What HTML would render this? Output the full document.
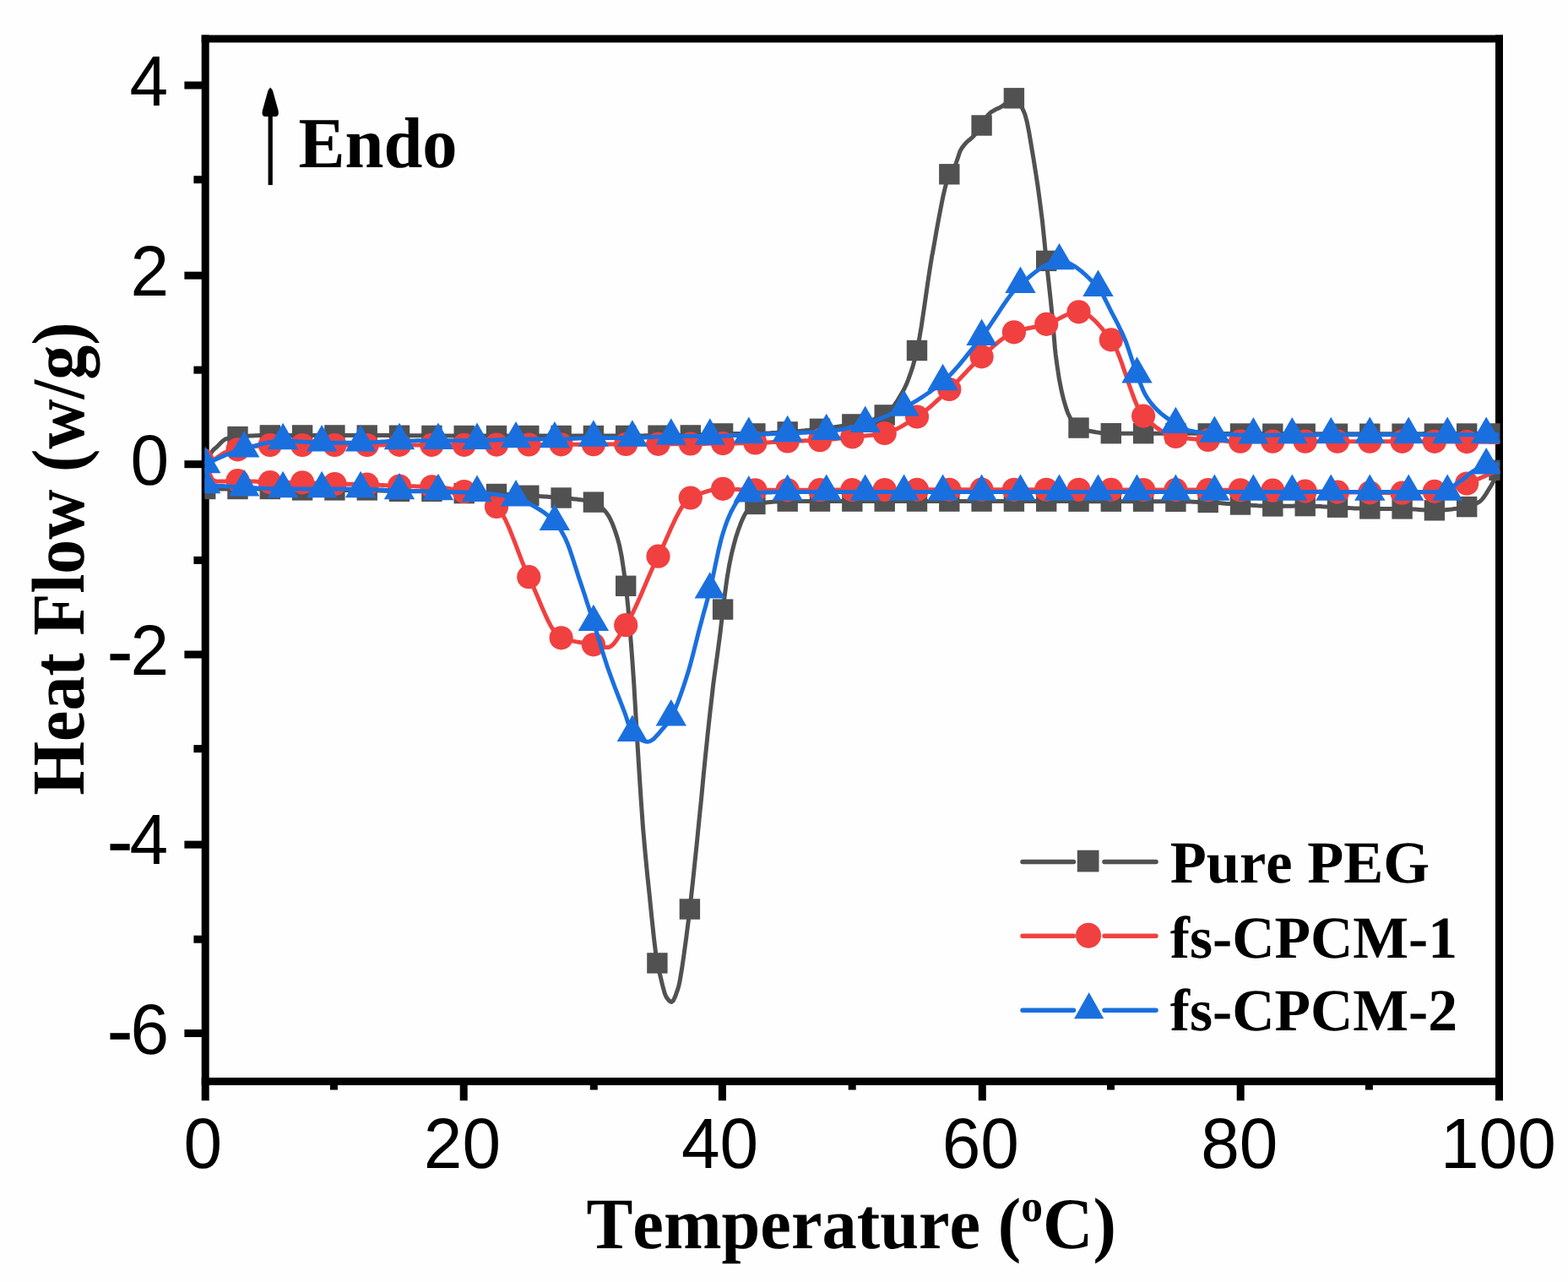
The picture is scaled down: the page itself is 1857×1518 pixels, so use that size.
<!DOCTYPE html>
<html lang="en">
<head>
<meta charset="utf-8">
<title>Heat Flow vs Temperature</title>
<style>
html,body{margin:0;padding:0;background:#fefefe;}
body{width:1857px;height:1518px;overflow:hidden;}
svg{display:block;}
text{font-kerning:none;font-variant-ligatures:none;text-rendering:geometricPrecision;}
.sans{font-family:"Liberation Sans",sans-serif;}
.serif{font-family:"Liberation Serif",serif;font-weight:bold;}
</style>
</head>
<body>
<svg width="1857" height="1518" viewBox="0 0 1857 1518">
<clipPath id="plot"><rect x="242.3" y="46" width="1534.3" height="1234.5"/></clipPath>
<rect width="1857" height="1518" fill="#fefefe"/>
<g fill="#000">
<rect x="238.7" y="41.5" width="9" height="1261.7"/>
<rect x="1771" y="41.5" width="9" height="1261.7"/>
<rect x="238.7" y="41.5" width="1541.3" height="8.9"/>
<rect x="238.7" y="1276" width="1541.3" height="9"/>
<rect x="218.4" y="1219.0" width="21" height="9"/>
<rect x="229.4" y="1107.7" width="10" height="9"/>
<rect x="218.4" y="995.6" width="21" height="9"/>
<rect x="229.4" y="882.1" width="10" height="9"/>
<rect x="218.4" y="770.5" width="21" height="9"/>
<rect x="229.4" y="658.9" width="10" height="9"/>
<rect x="218.4" y="545.2" width="21" height="9"/>
<rect x="229.4" y="433.6" width="10" height="9"/>
<rect x="218.4" y="321.7" width="21" height="9"/>
<rect x="229.4" y="208.2" width="10" height="9"/>
<rect x="218.4" y="96.5" width="21" height="9"/>
<rect x="390.9" y="1284" width="9" height="6.5"/>
<rect x="544.7" y="1284" width="9" height="19.2"/>
<rect x="698.8" y="1284" width="9" height="6.5"/>
<rect x="850.9" y="1284" width="9" height="19.2"/>
<rect x="1004.7" y="1284" width="9" height="6.5"/>
<rect x="1158.8" y="1284" width="9" height="19.2"/>
<rect x="1311.0" y="1284" width="9" height="6.5"/>
<rect x="1464.7" y="1284" width="9" height="19.2"/>
<rect x="1616.9" y="1284" width="9" height="6.5"/>
</g>
<g clip-path="url(#plot)">
<path d="M243.2 550.0 L245.8 544.1 L248.3 539.0 L250.9 534.9 L251.8 533.7 L253.4 532.0 L256.0 529.8 L258.5 527.5 L261.1 524.8 L263.4 522.5 L263.6 522.3 L266.2 520.4 L268.2 519.5 L268.7 519.3 L271.3 518.6 L273.8 518.1 L276.4 517.7 L278.9 517.3 L281.5 517.1 L284.1 516.9 L286.6 516.7 L289.2 516.6 L291.7 516.4 L294.3 516.2 L296.8 516.1 L299.4 516.0 L301.9 515.8 L304.5 515.7 L307.1 515.6 L309.6 515.6 L312.2 515.5 L314.7 515.5 L317.3 515.4 L319.8 515.4 L322.4 515.4 L324.9 515.4 L327.5 515.4 L330.0 515.4 L332.6 515.4 L335.1 515.4 L337.7 515.4 L340.2 515.4 L342.8 515.4 L345.4 515.4 L347.9 515.4 L350.5 515.4 L353.0 515.4 L355.6 515.4 L358.1 515.4 L360.7 515.4 L363.2 515.4 L365.8 515.4 L368.3 515.4 L370.9 515.4 L373.4 515.4 L376.0 515.4 L378.5 515.4 L381.1 515.4 L383.7 515.4 L386.2 515.4 L388.8 515.4 L391.3 515.4 L393.9 515.4 L396.4 515.4 L399.0 515.4 L401.5 515.4 L404.1 515.4 L406.7 515.4 L409.2 515.4 L411.8 515.4 L414.3 515.4 L416.9 515.5 L419.4 515.5 L422.0 515.5 L424.5 515.5 L427.1 515.5 L429.6 515.5 L432.2 515.5 L434.7 515.5 L437.3 515.5 L439.8 515.5 L442.4 515.5 L445.0 515.6 L447.5 515.6 L450.1 515.6 L452.6 515.6 L455.2 515.6 L457.7 515.6 L460.3 515.6 L462.8 515.7 L465.4 515.7 L467.9 515.7 L470.5 515.7 L473.0 515.7 L475.6 515.7 L478.1 515.7 L480.7 515.7 L483.3 515.8 L485.8 515.8 L488.4 515.8 L490.9 515.8 L493.5 515.8 L496.0 515.8 L498.6 515.8 L501.1 515.9 L503.7 515.9 L506.2 515.9 L508.8 515.9 L511.4 515.9 L513.9 515.9 L516.5 515.9 L519.0 515.9 L521.6 515.9 L524.1 515.9 L526.7 516.0 L529.2 516.0 L531.8 516.0 L534.3 516.0 L536.9 516.0 L539.4 516.0 L542.0 516.0 L544.6 516.0 L547.1 516.0 L549.7 516.0 L552.2 516.0 L554.8 516.0 L557.3 516.0 L559.9 516.0 L562.4 516.0 L565.0 516.0 L567.5 516.0 L570.1 516.0 L572.6 516.0 L575.2 516.0 L577.7 516.0 L580.3 516.0 L582.9 516.0 L585.4 516.0 L588.0 516.0 L590.5 516.0 L593.1 516.0 L595.6 516.0 L598.2 516.0 L600.7 516.0 L603.3 516.0 L605.8 516.0 L608.4 516.0 L611.0 516.0 L613.5 516.0 L616.1 516.0 L618.6 516.0 L621.2 516.0 L623.7 516.0 L626.3 516.0 L628.8 516.0 L631.4 516.0 L633.9 516.0 L636.5 516.0 L639.0 516.0 L641.6 516.0 L644.2 516.0 L646.7 516.0 L649.3 516.0 L651.8 516.0 L654.4 516.0 L656.9 516.0 L659.5 516.0 L662.0 516.0 L664.6 516.0 L667.1 516.0 L669.7 516.0 L672.2 516.0 L674.8 516.0 L677.3 516.0 L679.9 516.0 L682.5 516.0 L685.0 516.0 L687.6 516.0 L690.1 516.0 L692.7 516.0 L695.2 516.0 L697.8 516.0 L700.3 516.0 L702.9 516.0 L705.4 516.0 L708.0 516.0 L710.6 516.0 L713.1 516.0 L715.7 516.0 L718.2 516.0 L720.8 516.0 L723.3 516.0 L725.9 516.0 L728.4 516.0 L731.0 516.0 L733.5 516.0 L736.1 515.9 L738.6 515.9 L741.2 515.9 L743.8 515.9 L746.3 515.9 L748.9 515.9 L751.4 515.9 L754.0 515.9 L756.5 515.9 L759.1 515.9 L761.6 515.9 L764.2 515.8 L766.7 515.8 L769.3 515.8 L771.8 515.8 L774.4 515.8 L776.9 515.8 L779.5 515.7 L782.1 515.7 L784.6 515.7 L787.2 515.7 L789.7 515.7 L792.3 515.7 L794.8 515.6 L797.4 515.6 L799.9 515.6 L802.5 515.6 L805.0 515.6 L807.6 515.5 L810.2 515.5 L812.7 515.5 L815.3 515.5 L817.8 515.4 L820.4 515.4 L822.9 515.3 L825.5 515.2 L828.0 515.0 L830.6 514.8 L833.1 514.7 L835.7 514.5 L838.2 514.3 L840.8 514.1 L843.4 513.9 L845.9 513.7 L848.5 513.6 L851.0 513.5 L853.6 513.4 L856.1 513.4 L858.7 513.4 L861.2 513.4 L863.8 513.4 L866.3 513.4 L868.9 513.4 L871.4 513.4 L874.0 513.4 L876.5 513.4 L879.1 513.4 L881.7 513.4 L884.2 513.4 L886.8 513.4 L889.3 513.4 L891.9 513.4 L894.4 513.4 L897.0 513.4 L899.5 513.3 L902.1 513.3 L904.6 513.2 L907.2 513.1 L909.8 512.9 L912.3 512.8 L914.9 512.6 L917.4 512.5 L920.0 512.3 L922.5 512.1 L925.1 511.9 L927.6 511.7 L930.2 511.6 L932.7 511.4 L935.3 511.2 L937.8 511.0 L940.4 510.8 L943.0 510.6 L945.5 510.4 L948.1 510.2 L950.6 509.9 L953.2 509.7 L955.7 509.4 L958.3 509.2 L960.8 508.9 L963.4 508.6 L965.9 508.4 L968.5 508.1 L971.0 507.8 L973.6 507.5 L976.1 507.2 L978.7 506.9 L981.3 506.6 L983.8 506.3 L986.4 506.0 L988.9 505.6 L991.5 505.3 L994.0 504.9 L996.6 504.6 L999.1 504.2 L1001.7 503.8 L1004.2 503.3 L1006.8 502.9 L1009.3 502.4 L1011.9 501.9 L1014.5 501.4 L1017.0 500.9 L1019.6 500.4 L1022.1 499.9 L1024.7 499.3 L1027.2 498.7 L1029.8 498.1 L1032.3 497.3 L1034.9 496.6 L1037.4 495.7 L1040.0 494.8 L1042.6 493.7 L1045.1 492.6 L1047.7 491.4 L1050.2 489.8 L1052.8 487.6 L1055.3 484.8 L1057.9 481.6 L1060.4 478.0 L1063.0 474.1 L1065.5 469.9 L1068.1 465.5 L1069.7 462.7 L1070.6 461.0 L1073.2 455.6 L1075.7 449.3 L1078.3 442.2 L1080.9 434.4 L1083.4 425.4 L1086.0 415.0 L1088.5 402.3 L1091.1 387.2 L1093.6 370.3 L1096.2 352.7 L1098.7 335.1 L1101.3 318.1 L1103.8 302.8 L1104.4 300.0 L1106.4 288.9 L1108.9 274.5 L1111.5 260.3 L1114.1 246.6 L1116.6 233.9 L1119.2 222.6 L1121.7 213.3 L1124.3 206.3 L1126.8 201.8 L1129.4 198.4 L1131.9 194.2 L1134.5 186.6 L1137.0 179.0 L1137.3 178.5 L1139.6 174.6 L1142.2 171.3 L1144.2 169.0 L1144.7 168.5 L1147.3 166.2 L1149.8 164.2 L1152.4 161.9 L1152.6 161.6 L1154.9 159.0 L1157.5 155.8 L1160.0 152.2 L1162.6 148.5 L1165.1 144.1 L1167.7 139.5 L1169.5 136.9 L1170.2 136.1 L1172.8 133.6 L1174.8 132.1 L1175.3 131.8 L1177.9 130.3 L1180.5 129.0 L1183.0 127.9 L1185.6 126.6 L1186.3 126.1 L1188.1 124.9 L1190.7 122.8 L1193.2 120.5 L1195.8 118.4 L1198.3 116.9 L1200.9 116.3 L1203.4 117.3 L1206.0 120.0 L1208.5 124.1 L1211.1 129.1 L1213.1 133.6 L1213.7 134.8 L1216.2 144.1 L1218.8 157.1 L1221.3 172.0 L1223.9 187.4 L1226.4 203.1 L1229.0 220.0 L1231.5 238.5 L1234.1 258.9 L1234.6 263.1 L1236.6 282.6 L1239.2 308.9 L1241.8 332.4 L1244.3 355.5 L1245.6 368.5 L1246.9 382.2 L1249.4 412.3 L1250.2 419.8 L1252.0 433.0 L1254.5 449.6 L1257.1 462.5 L1257.1 462.7 L1259.6 472.9 L1262.2 481.9 L1264.7 489.2 L1266.8 493.5 L1267.3 494.4 L1269.8 498.7 L1272.4 502.3 L1274.9 505.0 L1277.5 506.6 L1280.1 507.4 L1282.6 508.2 L1285.2 509.0 L1287.7 509.7 L1290.3 510.3 L1292.8 510.8 L1295.4 511.3 L1297.9 511.8 L1300.5 512.1 L1303.0 512.5 L1305.6 512.7 L1308.1 512.9 L1310.7 513.1 L1313.3 513.2 L1315.8 513.2 L1318.4 513.2 L1320.9 513.2 L1323.5 513.2 L1326.0 513.2 L1328.6 513.2 L1331.1 513.2 L1333.7 513.2 L1336.2 513.2 L1338.8 513.2 L1341.4 513.2 L1343.9 513.2 L1346.5 513.2 L1349.0 513.2 L1351.6 513.2 L1354.1 513.2 L1356.7 513.2 L1359.2 513.2 L1361.8 513.2 L1364.3 513.2 L1366.9 513.2 L1369.4 513.2 L1372.0 513.2 L1374.5 513.2 L1377.1 513.2 L1379.7 513.2 L1382.2 513.2 L1384.8 513.2 L1387.3 513.2 L1389.9 513.2 L1392.4 513.2 L1395.0 513.2 L1397.5 513.3 L1400.1 513.3 L1402.6 513.3 L1405.2 513.3 L1407.7 513.3 L1410.3 513.3 L1412.9 513.3 L1415.4 513.3 L1418.0 513.3 L1420.5 513.3 L1423.1 513.3 L1425.6 513.4 L1428.2 513.4 L1430.7 513.4 L1433.3 513.4 L1435.8 513.4 L1438.4 513.4 L1441.0 513.4 L1443.5 513.4 L1446.1 513.4 L1448.6 513.5 L1451.2 513.5 L1453.7 513.5 L1456.3 513.5 L1458.8 513.5 L1461.4 513.5 L1463.9 513.5 L1466.5 513.5 L1469.0 513.5 L1471.6 513.6 L1474.1 513.6 L1476.7 513.6 L1479.3 513.6 L1481.8 513.6 L1484.4 513.6 L1486.9 513.6 L1489.5 513.6 L1492.0 513.6 L1494.6 513.6 L1497.1 513.7 L1499.7 513.7 L1502.2 513.7 L1504.8 513.7 L1507.3 513.7 L1509.9 513.7 L1512.5 513.7 L1515.0 513.7 L1517.6 513.7 L1520.1 513.7 L1522.7 513.7 L1525.2 513.7 L1527.8 513.7 L1530.3 513.7 L1532.9 513.7 L1535.4 513.7 L1538.0 513.7 L1540.6 513.7 L1543.1 513.7 L1545.7 513.7 L1548.2 513.7 L1550.8 513.7 L1553.3 513.7 L1555.9 513.7 L1558.4 513.7 L1561.0 513.7 L1563.5 513.7 L1566.1 513.7 L1568.6 513.7 L1571.2 513.7 L1573.7 513.7 L1576.3 513.7 L1578.9 513.7 L1581.4 513.7 L1584.0 513.7 L1586.5 513.7 L1589.1 513.7 L1591.6 513.7 L1594.2 513.7 L1596.7 513.7 L1599.3 513.7 L1601.8 513.7 L1604.4 513.7 L1606.9 513.7 L1609.5 513.7 L1612.0 513.7 L1614.6 513.7 L1617.2 513.7 L1619.7 513.7 L1622.3 513.7 L1624.8 513.7 L1627.4 513.7 L1629.9 513.7 L1632.5 513.7 L1635.0 513.7 L1637.6 513.7 L1640.2 513.7 L1642.7 513.7 L1645.3 513.7 L1647.8 513.7 L1650.4 513.7 L1652.9 513.7 L1655.5 513.7 L1658.0 513.7 L1660.6 513.7 L1663.1 513.7 L1665.7 513.7 L1668.2 513.7 L1670.8 513.7 L1673.3 513.7 L1675.9 513.7 L1678.5 513.7 L1681.0 513.7 L1683.6 513.7 L1686.1 513.6 L1688.7 513.6 L1691.2 513.6 L1693.8 513.6 L1696.3 513.6 L1698.9 513.6 L1701.4 513.6 L1704.0 513.6 L1706.5 513.6 L1709.1 513.6 L1711.6 513.6 L1714.2 513.6 L1716.8 513.6 L1719.3 513.6 L1721.9 513.6 L1724.4 513.6 L1727.0 513.6 L1729.5 513.6 L1732.1 513.5 L1734.6 513.5 L1737.2 513.5 L1739.8 513.5 L1742.3 513.5 L1744.9 513.5 L1747.4 513.5 L1750.0 513.5 L1752.5 513.5 L1755.1 513.5 L1757.6 513.5 L1760.2 513.5 L1762.7 513.5 L1765.3 513.4 L1767.8 513.4 L1770.4 513.4 L1772.9 513.4 L1775.5 513.4" fill="none" stroke="#515151" stroke-width="5.0" stroke-linejoin="round"/>
<path d="M243.2 579.0 L245.8 579.0 L248.3 579.0 L250.9 579.0 L253.4 579.0 L256.0 579.0 L258.5 579.0 L261.1 579.0 L263.6 579.0 L266.2 579.0 L268.7 579.0 L271.3 579.0 L273.8 579.0 L276.4 579.0 L278.9 579.0 L281.5 579.0 L284.1 579.0 L286.6 579.0 L289.2 579.0 L291.7 579.0 L294.3 579.0 L296.8 579.0 L299.4 579.0 L301.9 579.0 L304.5 579.0 L307.1 579.0 L309.6 579.0 L312.2 579.0 L314.7 579.0 L317.3 579.0 L319.8 579.0 L322.4 579.0 L324.9 579.0 L327.5 579.1 L330.0 579.2 L332.6 579.3 L335.1 579.5 L337.7 579.6 L340.2 579.8 L342.8 579.9 L345.4 580.0 L347.9 580.2 L350.5 580.3 L353.0 580.3 L355.6 580.4 L358.1 580.4 L360.7 580.4 L363.2 580.4 L365.8 580.4 L368.3 580.4 L370.9 580.4 L373.4 580.4 L376.0 580.4 L378.5 580.4 L381.1 580.4 L383.7 580.4 L386.2 580.4 L388.8 580.4 L391.3 580.4 L393.9 580.4 L396.4 580.4 L399.0 580.4 L401.5 580.4 L404.1 580.4 L406.7 580.4 L409.2 580.4 L411.8 580.4 L414.3 580.4 L416.9 580.4 L419.4 580.4 L422.0 580.4 L424.5 580.4 L427.1 580.4 L429.6 580.4 L432.2 580.4 L434.7 580.4 L437.3 580.4 L439.8 580.5 L442.4 580.6 L445.0 580.7 L447.5 580.8 L450.1 580.9 L452.6 581.0 L455.2 581.2 L457.7 581.3 L460.3 581.4 L462.8 581.5 L465.4 581.6 L467.9 581.7 L470.5 581.7 L473.0 581.8 L475.6 581.8 L478.1 581.8 L480.7 581.8 L483.3 581.8 L485.8 581.8 L488.4 581.8 L490.9 581.8 L493.5 581.8 L496.0 581.8 L498.6 581.8 L501.1 581.8 L503.7 581.8 L506.2 581.8 L508.8 581.8 L511.4 581.8 L513.9 581.8 L516.5 581.9 L519.0 582.0 L521.6 582.1 L524.1 582.3 L526.7 582.5 L529.2 582.7 L531.8 582.9 L534.3 583.1 L536.9 583.3 L539.4 583.5 L542.0 583.7 L544.6 583.9 L547.1 584.0 L549.7 584.1 L552.2 584.2 L554.8 584.3 L557.3 584.3 L559.9 584.4 L562.4 584.5 L565.0 584.5 L567.5 584.6 L570.1 584.6 L572.6 584.7 L575.2 584.7 L577.7 584.8 L580.3 584.8 L582.9 584.9 L585.4 584.9 L588.0 585.0 L590.5 585.1 L593.1 585.2 L595.6 585.3 L598.2 585.4 L600.7 585.5 L603.3 585.6 L605.8 585.7 L608.4 585.9 L611.0 586.0 L613.5 586.1 L616.1 586.3 L618.6 586.4 L621.2 586.5 L623.7 586.7 L626.3 586.8 L628.8 587.0 L631.4 587.1 L633.9 587.3 L636.5 587.4 L639.0 587.6 L641.6 587.7 L644.2 587.9 L646.7 588.1 L649.3 588.3 L651.8 588.5 L654.4 588.6 L656.9 588.9 L659.5 589.1 L662.0 589.3 L664.6 589.5 L667.1 589.7 L669.7 590.0 L672.2 590.2 L674.8 590.4 L677.3 590.6 L679.9 590.9 L682.5 591.1 L685.0 591.4 L687.6 591.7 L690.1 592.1 L692.7 592.5 L695.2 592.9 L697.8 593.4 L700.3 593.9 L702.9 594.6 L705.4 595.5 L708.0 597.0 L710.6 599.0 L713.1 601.4 L715.7 604.2 L718.2 607.2 L720.8 611.0 L723.3 615.7 L725.9 621.6 L728.4 628.5 L731.0 636.4 L732.9 643.2 L733.5 645.5 L736.1 658.2 L738.6 674.6 L741.2 693.8 L743.8 718.5 L745.6 740.2 L746.3 748.1 L748.9 782.2 L750.9 811.5 L751.4 820.4 L754.0 864.0 L755.0 881.1 L756.5 905.9 L759.1 946.3 L761.4 978.8 L761.6 981.3 L764.2 1010.5 L766.7 1036.5 L769.3 1060.8 L769.4 1061.9 L771.8 1085.8 L774.4 1110.2 L776.9 1131.0 L778.4 1140.4 L779.5 1145.7 L782.1 1156.0 L782.1 1156.2 L784.6 1166.6 L787.2 1176.1 L788.7 1179.7 L789.7 1181.4 L792.3 1184.8 L794.8 1186.4 L795.1 1186.5 L797.4 1184.7 L799.9 1179.4 L802.5 1171.9 L803.6 1168.5 L805.0 1162.3 L807.6 1147.0 L810.2 1129.0 L810.6 1125.8 L812.7 1110.6 L815.3 1090.2 L816.9 1076.5 L817.8 1068.5 L820.4 1045.2 L822.4 1025.9 L822.9 1021.1 L825.5 996.3 L828.0 971.0 L829.6 955.2 L830.6 945.4 L833.1 918.9 L835.7 892.8 L836.7 883.4 L838.2 868.4 L840.8 844.7 L843.4 822.2 L844.6 811.5 L845.9 801.5 L848.5 782.9 L851.0 764.5 L853.1 748.7 L853.6 744.4 L856.1 721.6 L858.7 701.7 L861.2 683.6 L863.8 668.5 L866.3 656.4 L868.9 645.8 L871.4 636.6 L874.0 628.7 L874.0 628.6 L876.5 621.8 L879.1 615.4 L881.7 610.0 L884.2 605.9 L884.6 605.3 L886.8 602.8 L889.3 600.0 L891.9 598.0 L894.4 596.9 L897.0 596.5 L899.5 596.0 L902.1 595.6 L904.6 595.3 L907.2 595.0 L909.8 594.7 L912.3 594.4 L914.9 594.2 L917.4 594.0 L920.0 593.9 L922.5 593.8 L925.1 593.7 L927.6 593.6 L930.2 593.6 L932.7 593.6 L935.3 593.6 L937.8 593.6 L940.4 593.6 L943.0 593.6 L945.5 593.6 L948.1 593.6 L950.6 593.6 L953.2 593.6 L955.7 593.6 L958.3 593.6 L960.8 593.6 L963.4 593.6 L965.9 593.6 L968.5 593.6 L971.0 593.6 L973.6 593.6 L976.1 593.6 L978.7 593.6 L981.3 593.6 L983.8 593.6 L986.4 593.6 L988.9 593.6 L991.5 593.6 L994.0 593.6 L996.6 593.6 L999.1 593.6 L1001.7 593.6 L1004.2 593.6 L1006.8 593.6 L1009.3 593.6 L1011.9 593.6 L1014.5 593.6 L1017.0 593.6 L1019.6 593.6 L1022.1 593.6 L1024.7 593.6 L1027.2 593.6 L1029.8 593.6 L1032.3 593.6 L1034.9 593.6 L1037.4 593.6 L1040.0 593.6 L1042.6 593.6 L1045.1 593.6 L1047.7 593.6 L1050.2 593.6 L1052.8 593.6 L1055.3 593.6 L1057.9 593.6 L1060.4 593.6 L1063.0 593.6 L1065.5 593.6 L1068.1 593.6 L1070.6 593.6 L1073.2 593.6 L1075.7 593.6 L1078.3 593.6 L1080.9 593.6 L1083.4 593.6 L1086.0 593.6 L1088.5 593.6 L1091.1 593.6 L1093.6 593.6 L1096.2 593.6 L1098.7 593.6 L1101.3 593.6 L1103.8 593.6 L1106.4 593.6 L1108.9 593.6 L1111.5 593.6 L1114.1 593.6 L1116.6 593.6 L1119.2 593.6 L1121.7 593.6 L1124.3 593.6 L1126.8 593.6 L1129.4 593.6 L1131.9 593.6 L1134.5 593.6 L1137.0 593.6 L1139.6 593.6 L1142.2 593.6 L1144.7 593.6 L1147.3 593.6 L1149.8 593.6 L1152.4 593.6 L1154.9 593.6 L1157.5 593.6 L1160.0 593.6 L1162.6 593.6 L1165.1 593.6 L1167.7 593.6 L1170.2 593.6 L1172.8 593.6 L1175.3 593.6 L1177.9 593.6 L1180.5 593.6 L1183.0 593.6 L1185.6 593.6 L1188.1 593.6 L1190.7 593.6 L1193.2 593.6 L1195.8 593.6 L1198.3 593.6 L1200.9 593.6 L1203.4 593.6 L1206.0 593.6 L1208.5 593.6 L1211.1 593.6 L1213.7 593.6 L1216.2 593.6 L1218.8 593.6 L1221.3 593.6 L1223.9 593.6 L1226.4 593.6 L1229.0 593.6 L1231.5 593.6 L1234.1 593.6 L1236.6 593.6 L1239.2 593.6 L1241.8 593.6 L1244.3 593.6 L1246.9 593.6 L1249.4 593.6 L1252.0 593.6 L1254.5 593.6 L1257.1 593.6 L1259.6 593.6 L1262.2 593.6 L1264.7 593.6 L1267.3 593.6 L1269.8 593.7 L1272.4 593.7 L1274.9 593.7 L1277.5 593.7 L1280.1 593.7 L1282.6 593.7 L1285.2 593.7 L1287.7 593.7 L1290.3 593.7 L1292.8 593.7 L1295.4 593.7 L1297.9 593.7 L1300.5 593.7 L1303.0 593.7 L1305.6 593.7 L1308.1 593.7 L1310.7 593.7 L1313.3 593.7 L1315.8 593.7 L1318.4 593.7 L1320.9 593.7 L1323.5 593.7 L1326.0 593.7 L1328.6 593.7 L1331.1 593.7 L1333.7 593.7 L1336.2 593.7 L1338.8 593.7 L1341.4 593.7 L1343.9 593.7 L1346.5 593.7 L1349.0 593.7 L1351.6 593.7 L1354.1 593.7 L1356.7 593.7 L1359.2 593.7 L1361.8 593.7 L1364.3 593.7 L1366.9 593.7 L1369.4 593.7 L1372.0 593.8 L1374.5 593.8 L1377.1 593.8 L1379.7 593.8 L1382.2 593.8 L1384.8 593.8 L1387.3 593.8 L1389.9 593.8 L1392.4 593.8 L1395.0 593.8 L1397.5 593.8 L1400.1 593.9 L1402.6 593.9 L1405.2 594.0 L1407.7 594.0 L1410.3 594.1 L1412.9 594.2 L1415.4 594.3 L1418.0 594.4 L1420.5 594.5 L1423.1 594.6 L1425.6 594.7 L1428.2 594.8 L1430.7 594.9 L1433.3 595.0 L1435.8 595.1 L1438.4 595.3 L1441.0 595.5 L1443.5 595.6 L1446.1 595.8 L1448.6 596.0 L1451.2 596.2 L1453.7 596.4 L1456.3 596.6 L1458.8 596.8 L1461.4 597.0 L1463.9 597.2 L1466.5 597.3 L1469.0 597.5 L1471.6 597.6 L1474.1 597.8 L1476.7 598.0 L1479.3 598.1 L1481.8 598.3 L1484.4 598.5 L1486.9 598.6 L1489.5 598.8 L1492.0 598.9 L1494.6 599.1 L1497.1 599.2 L1499.7 599.3 L1502.2 599.3 L1504.8 599.4 L1507.3 599.4 L1509.9 599.4 L1512.5 599.4 L1515.0 599.4 L1517.6 599.3 L1520.1 599.3 L1522.7 599.3 L1525.2 599.2 L1527.8 599.2 L1530.3 599.2 L1532.9 599.1 L1535.4 599.1 L1538.0 599.1 L1540.6 599.1 L1543.1 599.1 L1545.7 599.1 L1548.2 599.1 L1550.8 599.1 L1553.3 599.2 L1555.9 599.3 L1558.4 599.4 L1561.0 599.5 L1563.5 599.6 L1566.1 599.8 L1568.6 599.9 L1571.2 600.1 L1573.7 600.2 L1576.3 600.3 L1578.9 600.5 L1581.4 600.6 L1584.0 600.7 L1586.5 600.9 L1589.1 601.0 L1591.6 601.1 L1594.2 601.3 L1596.7 601.4 L1599.3 601.6 L1601.8 601.7 L1604.4 601.9 L1606.9 602.0 L1609.5 602.1 L1612.0 602.2 L1614.6 602.3 L1617.2 602.4 L1619.7 602.4 L1622.3 602.4 L1624.8 602.4 L1627.4 602.4 L1629.9 602.4 L1632.5 602.4 L1635.0 602.4 L1637.6 602.4 L1640.2 602.4 L1642.7 602.4 L1645.3 602.4 L1647.8 602.4 L1650.4 602.4 L1652.9 602.4 L1655.5 602.4 L1658.0 602.4 L1660.6 602.4 L1663.1 602.4 L1665.7 602.5 L1668.2 602.6 L1670.8 602.8 L1673.3 602.9 L1675.9 603.1 L1678.5 603.3 L1681.0 603.5 L1683.6 603.7 L1686.1 603.8 L1688.7 604.0 L1691.2 604.1 L1693.8 604.2 L1696.3 604.3 L1698.9 604.3 L1701.4 604.3 L1704.0 604.2 L1706.5 604.1 L1709.1 604.0 L1711.6 603.8 L1714.2 603.5 L1716.8 603.3 L1719.3 603.0 L1721.9 602.6 L1724.4 602.3 L1727.0 601.9 L1729.5 601.4 L1732.1 601.0 L1734.6 600.5 L1737.2 600.1 L1739.8 599.5 L1742.3 598.7 L1744.9 597.8 L1747.4 596.7 L1750.0 595.3 L1752.5 593.8 L1755.1 591.5 L1757.6 588.3 L1760.2 584.4 L1762.7 580.3 L1764.8 576.9 L1765.3 576.1 L1767.8 571.8 L1770.4 567.1 L1772.9 562.1 L1775.5 556.8" fill="none" stroke="#515151" stroke-width="5.0" stroke-linejoin="round"/>
<rect x="269.3" y="504.9" width="24.4" height="24.4" fill="#515151"/>
<rect x="307.6" y="503.2" width="24.4" height="24.4" fill="#515151"/>
<rect x="345.9" y="503.2" width="24.4" height="24.4" fill="#515151"/>
<rect x="384.2" y="503.2" width="24.4" height="24.4" fill="#515151"/>
<rect x="422.5" y="503.3" width="24.4" height="24.4" fill="#515151"/>
<rect x="460.8" y="503.5" width="24.4" height="24.4" fill="#515151"/>
<rect x="499.2" y="503.7" width="24.4" height="24.4" fill="#515151"/>
<rect x="537.5" y="503.8" width="24.4" height="24.4" fill="#515151"/>
<rect x="575.8" y="503.8" width="24.4" height="24.4" fill="#515151"/>
<rect x="614.1" y="503.8" width="24.4" height="24.4" fill="#515151"/>
<rect x="652.4" y="503.8" width="24.4" height="24.4" fill="#515151"/>
<rect x="690.7" y="503.8" width="24.4" height="24.4" fill="#515151"/>
<rect x="729.0" y="503.7" width="24.4" height="24.4" fill="#515151"/>
<rect x="767.3" y="503.5" width="24.4" height="24.4" fill="#515151"/>
<rect x="805.6" y="503.2" width="24.4" height="24.4" fill="#515151"/>
<rect x="843.9" y="501.2" width="24.4" height="24.4" fill="#515151"/>
<rect x="882.2" y="501.2" width="24.4" height="24.4" fill="#515151"/>
<rect x="920.5" y="499.2" width="24.4" height="24.4" fill="#515151"/>
<rect x="958.8" y="495.6" width="24.4" height="24.4" fill="#515151"/>
<rect x="997.1" y="490.2" width="24.4" height="24.4" fill="#515151"/>
<rect x="1035.5" y="479.2" width="24.4" height="24.4" fill="#515151"/>
<rect x="1073.8" y="402.8" width="24.4" height="24.4" fill="#515151"/>
<rect x="1112.1" y="194.1" width="24.4" height="24.4" fill="#515151"/>
<rect x="1150.4" y="136.3" width="24.4" height="24.4" fill="#515151"/>
<rect x="1188.7" y="104.1" width="24.4" height="24.4" fill="#515151"/>
<rect x="1227.0" y="296.7" width="24.4" height="24.4" fill="#515151"/>
<rect x="1265.3" y="494.4" width="24.4" height="24.4" fill="#515151"/>
<rect x="1303.6" y="501.0" width="24.4" height="24.4" fill="#515151"/>
<rect x="1341.9" y="501.0" width="24.4" height="24.4" fill="#515151"/>
<rect x="1380.2" y="501.0" width="24.4" height="24.4" fill="#515151"/>
<rect x="1418.5" y="501.2" width="24.4" height="24.4" fill="#515151"/>
<rect x="1456.8" y="501.3" width="24.4" height="24.4" fill="#515151"/>
<rect x="1495.1" y="501.5" width="24.4" height="24.4" fill="#515151"/>
<rect x="1533.5" y="501.5" width="24.4" height="24.4" fill="#515151"/>
<rect x="1571.8" y="501.5" width="24.4" height="24.4" fill="#515151"/>
<rect x="1610.1" y="501.5" width="24.4" height="24.4" fill="#515151"/>
<rect x="1648.4" y="501.5" width="24.4" height="24.4" fill="#515151"/>
<rect x="1686.7" y="501.4" width="24.4" height="24.4" fill="#515151"/>
<rect x="1725.0" y="501.3" width="24.4" height="24.4" fill="#515151"/>
<rect x="1763.3" y="501.2" width="24.4" height="24.4" fill="#515151"/>
<rect x="231.0" y="566.8" width="24.4" height="24.4" fill="#515151"/>
<rect x="269.3" y="566.8" width="24.4" height="24.4" fill="#515151"/>
<rect x="307.6" y="566.8" width="24.4" height="24.4" fill="#515151"/>
<rect x="345.9" y="568.2" width="24.4" height="24.4" fill="#515151"/>
<rect x="384.2" y="568.2" width="24.4" height="24.4" fill="#515151"/>
<rect x="422.5" y="568.2" width="24.4" height="24.4" fill="#515151"/>
<rect x="460.8" y="569.6" width="24.4" height="24.4" fill="#515151"/>
<rect x="499.2" y="569.6" width="24.4" height="24.4" fill="#515151"/>
<rect x="537.5" y="571.9" width="24.4" height="24.4" fill="#515151"/>
<rect x="575.8" y="572.8" width="24.4" height="24.4" fill="#515151"/>
<rect x="614.1" y="574.6" width="24.4" height="24.4" fill="#515151"/>
<rect x="652.4" y="577.3" width="24.4" height="24.4" fill="#515151"/>
<rect x="690.7" y="582.4" width="24.4" height="24.4" fill="#515151"/>
<rect x="729.0" y="681.6" width="24.4" height="24.4" fill="#515151"/>
<rect x="766.2" y="1128.2" width="24.4" height="24.4" fill="#515151"/>
<rect x="804.7" y="1064.3" width="24.4" height="24.4" fill="#515151"/>
<rect x="843.9" y="709.4" width="24.4" height="24.4" fill="#515151"/>
<rect x="882.2" y="584.7" width="24.4" height="24.4" fill="#515151"/>
<rect x="920.5" y="581.4" width="24.4" height="24.4" fill="#515151"/>
<rect x="958.8" y="581.4" width="24.4" height="24.4" fill="#515151"/>
<rect x="997.1" y="581.4" width="24.4" height="24.4" fill="#515151"/>
<rect x="1035.5" y="581.4" width="24.4" height="24.4" fill="#515151"/>
<rect x="1073.8" y="581.4" width="24.4" height="24.4" fill="#515151"/>
<rect x="1112.1" y="581.4" width="24.4" height="24.4" fill="#515151"/>
<rect x="1150.4" y="581.4" width="24.4" height="24.4" fill="#515151"/>
<rect x="1188.7" y="581.4" width="24.4" height="24.4" fill="#515151"/>
<rect x="1227.0" y="581.4" width="24.4" height="24.4" fill="#515151"/>
<rect x="1265.3" y="581.5" width="24.4" height="24.4" fill="#515151"/>
<rect x="1303.6" y="581.5" width="24.4" height="24.4" fill="#515151"/>
<rect x="1341.9" y="581.5" width="24.4" height="24.4" fill="#515151"/>
<rect x="1380.2" y="581.6" width="24.4" height="24.4" fill="#515151"/>
<rect x="1418.5" y="582.7" width="24.4" height="24.4" fill="#515151"/>
<rect x="1456.8" y="585.3" width="24.4" height="24.4" fill="#515151"/>
<rect x="1495.1" y="587.2" width="24.4" height="24.4" fill="#515151"/>
<rect x="1533.5" y="586.9" width="24.4" height="24.4" fill="#515151"/>
<rect x="1571.8" y="588.5" width="24.4" height="24.4" fill="#515151"/>
<rect x="1610.1" y="590.2" width="24.4" height="24.4" fill="#515151"/>
<rect x="1648.4" y="590.2" width="24.4" height="24.4" fill="#515151"/>
<rect x="1686.7" y="592.1" width="24.4" height="24.4" fill="#515151"/>
<rect x="1725.0" y="587.9" width="24.4" height="24.4" fill="#515151"/>
<rect x="1763.3" y="544.6" width="24.4" height="24.4" fill="#515151"/>
<path d="M243.2 533.2 L245.8 534.5 L247.6 536.1 L248.3 536.9 L250.9 542.1 L252.9 544.4 L253.4 544.3 L256.0 542.8 L258.5 540.8 L261.1 539.0 L263.6 537.2 L265.7 536.1 L266.2 535.9 L268.7 535.1 L271.3 534.4 L273.8 533.7 L276.4 533.2 L278.9 532.7 L281.5 532.3 L284.1 531.8 L286.6 531.3 L289.2 530.8 L291.7 530.3 L294.3 529.9 L296.8 529.4 L299.4 529.0 L301.9 528.6 L304.5 528.2 L307.1 527.8 L309.6 527.6 L312.2 527.3 L314.7 527.1 L317.3 527.0 L319.8 527.0 L322.4 527.0 L324.9 527.0 L327.5 527.0 L330.0 527.0 L332.6 527.0 L335.1 527.0 L337.7 527.0 L340.2 527.0 L342.8 527.0 L345.4 527.0 L347.9 527.0 L350.5 527.0 L353.0 527.0 L355.6 527.0 L358.1 527.0 L360.7 527.0 L363.2 527.0 L365.8 527.0 L368.3 527.0 L370.9 527.0 L373.4 527.0 L376.0 527.0 L378.5 527.0 L381.1 527.0 L383.7 527.0 L386.2 527.0 L388.8 527.0 L391.3 527.0 L393.9 527.0 L396.4 527.0 L399.0 527.0 L401.5 527.0 L404.1 527.0 L406.7 527.0 L409.2 527.0 L411.8 527.0 L414.3 527.0 L416.9 527.0 L419.4 527.0 L422.0 527.0 L424.5 527.0 L427.1 527.0 L429.6 527.0 L432.2 527.0 L434.7 527.0 L437.3 527.0 L439.8 527.0 L442.4 527.0 L445.0 527.0 L447.5 527.0 L450.1 527.0 L452.6 527.0 L455.2 527.0 L457.7 526.9 L460.3 526.9 L462.8 526.9 L465.4 526.9 L467.9 526.9 L470.5 526.9 L473.0 526.9 L475.6 526.9 L478.1 526.9 L480.7 526.9 L483.3 526.9 L485.8 526.9 L488.4 526.9 L490.9 526.9 L493.5 526.9 L496.0 526.9 L498.6 526.9 L501.1 526.9 L503.7 526.9 L506.2 526.9 L508.8 526.9 L511.4 526.9 L513.9 526.8 L516.5 526.8 L519.0 526.8 L521.6 526.8 L524.1 526.8 L526.7 526.8 L529.2 526.8 L531.8 526.8 L534.3 526.8 L536.9 526.8 L539.4 526.8 L542.0 526.8 L544.6 526.8 L547.1 526.8 L549.7 526.8 L552.2 526.7 L554.8 526.7 L557.3 526.7 L559.9 526.7 L562.4 526.7 L565.0 526.7 L567.5 526.7 L570.1 526.7 L572.6 526.7 L575.2 526.7 L577.7 526.7 L580.3 526.7 L582.9 526.7 L585.4 526.6 L588.0 526.6 L590.5 526.6 L593.1 526.6 L595.6 526.6 L598.2 526.6 L600.7 526.6 L603.3 526.6 L605.8 526.6 L608.4 526.6 L611.0 526.6 L613.5 526.6 L616.1 526.5 L618.6 526.5 L621.2 526.5 L623.7 526.5 L626.3 526.5 L628.8 526.5 L631.4 526.5 L633.9 526.5 L636.5 526.5 L639.0 526.5 L641.6 526.4 L644.2 526.4 L646.7 526.4 L649.3 526.4 L651.8 526.4 L654.4 526.4 L656.9 526.4 L659.5 526.4 L662.0 526.4 L664.6 526.4 L667.1 526.3 L669.7 526.3 L672.2 526.3 L674.8 526.3 L677.3 526.3 L679.9 526.3 L682.5 526.3 L685.0 526.3 L687.6 526.3 L690.1 526.3 L692.7 526.2 L695.2 526.2 L697.8 526.2 L700.3 526.2 L702.9 526.2 L705.4 526.2 L708.0 526.2 L710.6 526.2 L713.1 526.2 L715.7 526.1 L718.2 526.1 L720.8 526.1 L723.3 526.1 L725.9 526.1 L728.4 526.1 L731.0 526.1 L733.5 526.1 L736.1 526.1 L738.6 526.0 L741.2 526.0 L743.8 526.0 L746.3 526.0 L748.9 526.0 L751.4 526.0 L754.0 526.0 L756.5 526.0 L759.1 525.9 L761.6 525.9 L764.2 525.9 L766.7 525.9 L769.3 525.9 L771.8 525.9 L774.4 525.9 L776.9 525.8 L779.5 525.8 L782.1 525.8 L784.6 525.8 L787.2 525.8 L789.7 525.8 L792.3 525.7 L794.8 525.7 L797.4 525.7 L799.9 525.7 L802.5 525.7 L805.0 525.6 L807.6 525.6 L810.2 525.6 L812.7 525.6 L815.3 525.6 L817.8 525.5 L820.4 525.5 L822.9 525.5 L825.5 525.5 L828.0 525.4 L830.6 525.4 L833.1 525.4 L835.7 525.4 L838.2 525.3 L840.8 525.3 L843.4 525.3 L845.9 525.2 L848.5 525.2 L851.0 525.2 L853.6 525.1 L856.1 525.1 L858.7 525.1 L861.2 525.0 L863.8 525.0 L866.3 525.0 L868.9 524.9 L871.4 524.9 L874.0 524.9 L876.5 524.8 L879.1 524.8 L881.7 524.7 L884.2 524.7 L886.8 524.7 L889.3 524.6 L891.9 524.6 L894.4 524.5 L897.0 524.5 L899.5 524.4 L902.1 524.3 L904.6 524.2 L907.2 524.0 L909.8 523.9 L912.3 523.7 L914.9 523.5 L917.4 523.4 L920.0 523.2 L922.5 523.0 L925.1 522.9 L927.6 522.7 L930.2 522.6 L932.7 522.5 L935.3 522.4 L937.8 522.3 L940.4 522.2 L943.0 522.1 L945.5 522.1 L948.1 522.0 L950.6 521.9 L953.2 521.8 L955.7 521.8 L958.3 521.7 L960.8 521.6 L963.4 521.5 L965.9 521.4 L968.5 521.3 L971.0 521.2 L973.6 521.0 L976.1 520.8 L978.7 520.6 L981.3 520.4 L983.8 520.2 L986.4 520.0 L988.9 519.7 L991.5 519.4 L994.0 519.1 L996.6 518.9 L999.1 518.6 L1001.7 518.3 L1004.2 518.0 L1006.8 517.7 L1009.3 517.4 L1011.9 517.2 L1014.5 516.9 L1017.0 516.7 L1019.6 516.5 L1022.1 516.2 L1024.7 516.0 L1027.2 515.7 L1029.8 515.5 L1032.3 515.2 L1034.9 514.9 L1037.4 514.6 L1040.0 514.2 L1042.6 513.8 L1045.1 513.4 L1047.7 513.0 L1050.2 512.4 L1052.8 511.7 L1055.3 510.8 L1057.9 509.8 L1060.4 508.6 L1063.0 507.4 L1065.5 506.1 L1068.1 504.7 L1070.6 503.2 L1073.2 501.6 L1075.7 500.1 L1078.3 498.4 L1080.9 496.8 L1083.4 495.2 L1086.0 493.5 L1088.5 491.9 L1091.1 490.1 L1093.6 488.2 L1096.2 486.2 L1098.7 484.1 L1101.3 482.0 L1103.8 479.8 L1106.4 477.5 L1108.9 475.2 L1111.5 472.9 L1114.1 470.5 L1116.6 468.1 L1119.2 465.7 L1121.7 463.4 L1124.3 461.0 L1126.8 458.6 L1129.4 456.1 L1131.9 453.5 L1134.5 450.9 L1137.0 448.2 L1139.6 445.5 L1142.2 442.8 L1144.7 440.1 L1147.3 437.3 L1149.8 434.7 L1152.4 432.1 L1154.9 429.5 L1157.5 427.0 L1160.0 424.6 L1162.6 422.4 L1165.1 420.1 L1167.7 417.9 L1170.2 415.6 L1172.8 413.3 L1175.3 411.0 L1177.9 408.7 L1180.5 406.5 L1183.0 404.4 L1185.6 402.4 L1188.1 400.5 L1190.7 398.7 L1193.2 397.1 L1195.8 395.6 L1198.3 394.4 L1200.9 393.3 L1203.4 392.4 L1206.0 391.6 L1208.5 390.9 L1211.1 390.2 L1213.7 389.6 L1216.2 389.0 L1218.8 388.5 L1221.3 388.0 L1223.9 387.5 L1226.4 387.0 L1229.0 386.4 L1231.5 385.9 L1234.1 385.3 L1236.6 384.6 L1239.2 383.9 L1241.8 383.0 L1244.3 382.0 L1246.9 380.9 L1249.4 379.7 L1252.0 378.4 L1254.5 377.1 L1257.1 375.8 L1259.6 374.5 L1262.2 373.3 L1264.7 372.2 L1267.3 371.2 L1269.8 370.4 L1272.4 369.8 L1274.9 369.4 L1277.5 369.3 L1280.1 369.5 L1282.6 370.1 L1285.2 371.2 L1287.7 372.6 L1290.3 374.3 L1292.8 376.3 L1295.4 378.6 L1297.9 381.1 L1300.5 383.8 L1303.0 386.6 L1305.6 389.6 L1308.1 392.7 L1310.7 395.9 L1313.3 399.1 L1315.8 402.4 L1318.4 406.2 L1320.9 411.0 L1323.5 416.8 L1326.0 423.2 L1328.6 430.1 L1331.1 437.5 L1333.7 445.0 L1336.2 452.5 L1338.8 460.0 L1341.4 467.2 L1343.9 473.8 L1346.5 479.9 L1349.0 485.2 L1351.6 489.5 L1354.1 492.6 L1356.7 495.2 L1359.2 497.6 L1361.8 499.9 L1364.3 502.1 L1366.9 504.1 L1369.4 506.1 L1372.0 507.9 L1374.5 509.6 L1377.1 511.1 L1379.7 512.5 L1382.2 513.7 L1384.8 514.8 L1387.3 515.7 L1389.9 516.4 L1392.4 517.0 L1395.0 517.4 L1397.5 517.9 L1400.1 518.2 L1402.6 518.6 L1405.2 518.9 L1407.7 519.2 L1410.3 519.5 L1412.9 519.7 L1415.4 519.9 L1418.0 520.2 L1420.5 520.4 L1423.1 520.5 L1425.6 520.7 L1428.2 520.9 L1430.7 521.0 L1433.3 521.2 L1435.8 521.4 L1438.4 521.5 L1441.0 521.7 L1443.5 521.8 L1446.1 522.0 L1448.6 522.1 L1451.2 522.2 L1453.7 522.4 L1456.3 522.5 L1458.8 522.6 L1461.4 522.6 L1463.9 522.7 L1466.5 522.7 L1469.0 522.7 L1471.6 522.7 L1474.1 522.7 L1476.7 522.7 L1479.3 522.7 L1481.8 522.7 L1484.4 522.7 L1486.9 522.7 L1489.5 522.7 L1492.0 522.7 L1494.6 522.7 L1497.1 522.7 L1499.7 522.7 L1502.2 522.7 L1504.8 522.7 L1507.3 522.7 L1509.9 522.7 L1512.5 522.7 L1515.0 522.7 L1517.6 522.7 L1520.1 522.7 L1522.7 522.7 L1525.2 522.7 L1527.8 522.7 L1530.3 522.7 L1532.9 522.7 L1535.4 522.7 L1538.0 522.7 L1540.6 522.7 L1543.1 522.7 L1545.7 522.7 L1548.2 522.7 L1550.8 522.7 L1553.3 522.7 L1555.9 522.7 L1558.4 522.7 L1561.0 522.7 L1563.5 522.7 L1566.1 522.7 L1568.6 522.7 L1571.2 522.7 L1573.7 522.7 L1576.3 522.7 L1578.9 522.7 L1581.4 522.7 L1584.0 522.7 L1586.5 522.7 L1589.1 522.7 L1591.6 522.7 L1594.2 522.7 L1596.7 522.7 L1599.3 522.7 L1601.8 522.7 L1604.4 522.7 L1606.9 522.7 L1609.5 522.7 L1612.0 522.7 L1614.6 522.7 L1617.2 522.7 L1619.7 522.7 L1622.3 522.7 L1624.8 522.7 L1627.4 522.7 L1629.9 522.7 L1632.5 522.7 L1635.0 522.7 L1637.6 522.7 L1640.2 522.7 L1642.7 522.7 L1645.3 522.7 L1647.8 522.7 L1650.4 522.7 L1652.9 522.8 L1655.5 522.8 L1658.0 522.8 L1660.6 522.8 L1663.1 522.8 L1665.7 522.8 L1668.2 522.8 L1670.8 522.8 L1673.3 522.8 L1675.9 522.8 L1678.5 522.8 L1681.0 522.8 L1683.6 522.8 L1686.1 522.8 L1688.7 522.8 L1691.2 522.9 L1693.8 522.9 L1696.3 522.9 L1698.9 522.9 L1701.4 522.9 L1704.0 522.9 L1706.5 522.9 L1709.1 522.9 L1711.6 522.9 L1714.2 522.9 L1716.8 523.0 L1719.3 523.0 L1721.9 523.0 L1724.4 523.0 L1727.0 523.0 L1729.5 523.0 L1732.1 523.0 L1734.6 523.0 L1737.2 523.1 L1739.8 523.1 L1742.3 523.1 L1744.9 523.1 L1747.4 523.1 L1750.0 523.2 L1752.5 523.2 L1755.1 523.2 L1757.6 523.3 L1760.2 523.3 L1762.7 523.3 L1765.3 523.4 L1767.8 523.4 L1770.4 523.4 L1772.9 523.5 L1775.5 523.5" fill="none" stroke="#F14040" stroke-width="5.0" stroke-linejoin="round"/>
<path d="M243.2 553.4 L245.8 557.0 L248.0 560.4 L248.3 561.0 L250.9 566.6 L253.0 569.3 L253.4 569.4 L256.0 569.7 L258.5 569.9 L261.1 570.0 L261.6 570.0 L263.6 570.0 L266.2 569.9 L268.7 569.7 L271.3 569.5 L273.8 569.4 L276.4 569.2 L278.9 569.1 L281.5 569.1 L284.1 569.1 L286.6 569.2 L289.2 569.3 L291.7 569.4 L294.3 569.6 L296.8 569.8 L299.4 569.9 L301.9 570.1 L304.5 570.3 L307.1 570.5 L309.6 570.7 L312.2 570.8 L314.7 571.0 L317.3 571.1 L319.8 571.1 L322.4 571.1 L324.9 571.1 L327.5 571.2 L330.0 571.2 L332.6 571.2 L335.1 571.2 L337.7 571.2 L340.2 571.2 L342.8 571.2 L345.4 571.2 L347.9 571.3 L350.5 571.3 L353.0 571.3 L355.6 571.3 L358.1 571.3 L360.7 571.4 L363.2 571.4 L365.8 571.5 L368.3 571.6 L370.9 571.8 L373.4 571.9 L376.0 572.0 L378.5 572.2 L381.1 572.3 L383.7 572.5 L386.2 572.6 L388.8 572.7 L391.3 572.9 L393.9 572.9 L396.4 573.0 L399.0 573.1 L401.5 573.1 L404.1 573.1 L406.7 573.2 L409.2 573.2 L411.8 573.2 L414.3 573.3 L416.9 573.3 L419.4 573.3 L422.0 573.4 L424.5 573.4 L427.1 573.4 L429.6 573.5 L432.2 573.5 L434.7 573.6 L437.3 573.6 L439.8 573.7 L442.4 573.8 L445.0 574.0 L447.5 574.1 L450.1 574.3 L452.6 574.4 L455.2 574.6 L457.7 574.7 L460.3 574.9 L462.8 575.0 L465.4 575.2 L467.9 575.3 L470.5 575.4 L473.0 575.5 L475.6 575.5 L478.1 575.6 L480.7 575.7 L483.3 575.7 L485.8 575.7 L488.4 575.8 L490.9 575.8 L493.5 575.9 L496.0 575.9 L498.6 575.9 L501.1 576.0 L503.7 576.0 L506.2 576.1 L508.8 576.2 L511.4 576.3 L513.9 576.4 L516.5 576.5 L519.0 576.8 L521.6 577.0 L524.1 577.3 L526.7 577.6 L529.2 578.0 L531.8 578.4 L534.3 578.9 L536.9 579.3 L539.4 579.8 L542.0 580.3 L544.6 580.9 L547.1 581.4 L549.7 582.0 L552.2 582.6 L554.8 583.3 L557.3 584.0 L559.9 584.8 L562.4 585.7 L565.0 586.7 L567.5 587.8 L570.1 589.0 L572.6 590.2 L575.2 591.6 L577.7 593.0 L580.3 594.6 L582.9 596.3 L585.4 598.0 L588.0 600.0 L590.5 602.4 L593.1 605.8 L595.6 609.9 L598.2 614.8 L600.7 620.2 L603.3 626.1 L605.8 632.4 L608.4 638.9 L611.0 645.6 L613.5 652.4 L616.1 659.1 L618.6 665.6 L621.2 671.9 L623.7 677.8 L626.3 683.2 L628.8 688.6 L631.4 694.2 L633.9 700.2 L636.5 706.2 L639.0 712.3 L641.6 718.4 L644.2 724.3 L646.7 729.9 L649.3 735.3 L651.8 740.2 L654.4 744.6 L656.9 748.4 L659.5 751.6 L662.0 753.9 L664.6 755.3 L667.1 756.2 L669.7 757.0 L672.2 757.7 L674.8 758.4 L677.3 758.9 L679.9 759.4 L682.5 759.9 L685.0 760.3 L687.6 760.7 L690.1 761.1 L692.7 761.5 L695.2 761.9 L697.8 762.3 L700.3 762.8 L702.9 763.3 L705.4 763.9 L708.0 764.5 L710.6 765.2 L713.1 765.8 L715.7 766.3 L718.2 766.6 L719.7 766.6 L720.8 766.5 L723.3 765.4 L725.9 763.3 L728.4 760.3 L731.0 756.7 L733.5 752.7 L736.1 748.5 L738.6 744.2 L741.2 740.2 L743.8 736.0 L746.3 731.5 L748.9 726.6 L751.4 721.4 L754.0 715.9 L756.5 710.2 L759.1 704.4 L761.6 698.5 L764.2 692.5 L766.7 686.5 L769.3 680.6 L771.8 674.8 L774.4 669.2 L776.9 663.8 L779.5 658.7 L782.1 653.5 L784.6 648.1 L787.2 642.5 L789.7 636.8 L792.3 631.0 L794.8 625.3 L797.4 619.7 L799.9 614.4 L802.5 609.3 L805.0 604.6 L807.6 600.4 L810.2 596.7 L812.7 593.6 L815.3 591.2 L817.8 589.5 L820.4 588.3 L822.9 587.1 L825.5 586.0 L828.0 585.0 L830.6 584.0 L833.1 583.1 L835.7 582.3 L838.2 581.5 L840.8 580.8 L843.4 580.2 L845.9 579.8 L848.5 579.4 L851.0 579.1 L853.6 578.9 L856.1 578.8 L858.7 578.9 L861.2 578.9 L863.8 579.0 L866.3 579.1 L868.9 579.2 L871.4 579.4 L874.0 579.5 L876.5 579.7 L879.1 579.8 L881.7 579.9 L884.2 580.1 L886.8 580.2 L889.3 580.2 L891.9 580.3 L894.4 580.3 L897.0 580.3 L899.5 580.3 L902.1 580.3 L904.6 580.3 L907.2 580.3 L909.8 580.3 L912.3 580.3 L914.9 580.3 L917.4 580.3 L920.0 580.3 L922.5 580.3 L925.1 580.3 L927.6 580.3 L930.2 580.3 L932.7 580.3 L935.3 580.3 L937.8 580.3 L940.4 580.3 L943.0 580.3 L945.5 580.3 L948.1 580.2 L950.6 580.2 L953.2 580.2 L955.7 580.2 L958.3 580.2 L960.8 580.2 L963.4 580.2 L965.9 580.2 L968.5 580.2 L971.0 580.2 L973.6 580.2 L976.1 580.2 L978.7 580.2 L981.3 580.2 L983.8 580.2 L986.4 580.2 L988.9 580.1 L991.5 580.1 L994.0 580.1 L996.6 580.1 L999.1 580.1 L1001.7 580.1 L1004.2 580.1 L1006.8 580.1 L1009.3 580.1 L1011.9 580.1 L1014.5 580.1 L1017.0 580.1 L1019.6 580.1 L1022.1 580.0 L1024.7 580.0 L1027.2 580.0 L1029.8 580.0 L1032.3 580.0 L1034.9 580.0 L1037.4 580.0 L1040.0 580.0 L1042.6 580.0 L1045.1 580.0 L1047.7 580.0 L1050.2 580.0 L1052.8 580.0 L1055.3 579.9 L1057.9 579.9 L1060.4 579.9 L1063.0 579.9 L1065.5 579.9 L1068.1 579.9 L1070.6 579.9 L1073.2 579.9 L1075.7 579.9 L1078.3 579.9 L1080.9 579.9 L1083.4 579.9 L1086.0 579.9 L1088.5 579.9 L1091.1 579.8 L1093.6 579.8 L1096.2 579.8 L1098.7 579.8 L1101.3 579.8 L1103.8 579.8 L1106.4 579.8 L1108.9 579.8 L1111.5 579.8 L1114.1 579.8 L1116.6 579.8 L1119.2 579.8 L1121.7 579.8 L1124.3 579.8 L1126.8 579.8 L1129.4 579.8 L1131.9 579.8 L1134.5 579.8 L1137.0 579.8 L1139.6 579.8 L1142.2 579.8 L1144.7 579.8 L1147.3 579.8 L1149.8 579.7 L1152.4 579.7 L1154.9 579.7 L1157.5 579.7 L1160.0 579.7 L1162.6 579.7 L1165.1 579.7 L1167.7 579.7 L1170.2 579.7 L1172.8 579.7 L1175.3 579.7 L1177.9 579.7 L1180.5 579.7 L1183.0 579.7 L1185.6 579.7 L1188.1 579.8 L1190.7 579.8 L1193.2 579.8 L1195.8 579.8 L1198.3 579.8 L1200.9 579.8 L1203.4 579.8 L1206.0 579.8 L1208.5 579.8 L1211.1 579.8 L1213.7 579.8 L1216.2 579.8 L1218.8 579.8 L1221.3 579.8 L1223.9 579.8 L1226.4 579.8 L1229.0 579.8 L1231.5 579.8 L1234.1 579.8 L1236.6 579.8 L1239.2 579.8 L1241.8 579.8 L1244.3 579.8 L1246.9 579.8 L1249.4 579.8 L1252.0 579.8 L1254.5 579.8 L1257.1 579.8 L1259.6 579.8 L1262.2 579.8 L1264.7 579.8 L1267.3 579.8 L1269.8 579.8 L1272.4 579.8 L1274.9 579.8 L1277.5 579.8 L1280.1 579.8 L1282.6 579.8 L1285.2 579.8 L1287.7 579.8 L1290.3 579.8 L1292.8 579.9 L1295.4 579.9 L1297.9 579.9 L1300.5 579.9 L1303.0 579.9 L1305.6 579.9 L1308.1 579.9 L1310.7 579.9 L1313.3 579.9 L1315.8 579.9 L1318.4 579.9 L1320.9 579.9 L1323.5 579.9 L1326.0 579.9 L1328.6 579.9 L1331.1 579.9 L1333.7 579.9 L1336.2 579.9 L1338.8 579.9 L1341.4 579.9 L1343.9 579.9 L1346.5 580.0 L1349.0 580.0 L1351.6 580.0 L1354.1 580.0 L1356.7 580.0 L1359.2 580.0 L1361.8 580.0 L1364.3 580.0 L1366.9 580.0 L1369.4 580.0 L1372.0 580.0 L1374.5 580.0 L1377.1 580.0 L1379.7 580.0 L1382.2 580.0 L1384.8 580.0 L1387.3 580.1 L1389.9 580.1 L1392.4 580.1 L1395.0 580.1 L1397.5 580.1 L1400.1 580.1 L1402.6 580.1 L1405.2 580.1 L1407.7 580.1 L1410.3 580.1 L1412.9 580.1 L1415.4 580.1 L1418.0 580.1 L1420.5 580.1 L1423.1 580.2 L1425.6 580.2 L1428.2 580.2 L1430.7 580.2 L1433.3 580.2 L1435.8 580.2 L1438.4 580.2 L1441.0 580.2 L1443.5 580.2 L1446.1 580.2 L1448.6 580.2 L1451.2 580.2 L1453.7 580.3 L1456.3 580.3 L1458.8 580.3 L1461.4 580.3 L1463.9 580.3 L1466.5 580.3 L1469.0 580.3 L1471.6 580.3 L1474.1 580.3 L1476.7 580.3 L1479.3 580.4 L1481.8 580.4 L1484.4 580.4 L1486.9 580.4 L1489.5 580.5 L1492.0 580.5 L1494.6 580.5 L1497.1 580.6 L1499.7 580.6 L1502.2 580.7 L1504.8 580.7 L1507.3 580.7 L1509.9 580.8 L1512.5 580.8 L1515.0 580.9 L1517.6 580.9 L1520.1 581.0 L1522.7 581.1 L1525.2 581.1 L1527.8 581.2 L1530.3 581.2 L1532.9 581.3 L1535.4 581.3 L1538.0 581.4 L1540.6 581.5 L1543.1 581.5 L1545.7 581.6 L1548.2 581.7 L1550.8 581.7 L1553.3 581.8 L1555.9 581.8 L1558.4 581.9 L1561.0 582.0 L1563.5 582.0 L1566.1 582.1 L1568.6 582.2 L1571.2 582.2 L1573.7 582.3 L1576.3 582.4 L1578.9 582.4 L1581.4 582.5 L1584.0 582.6 L1586.5 582.6 L1589.1 582.7 L1591.6 582.7 L1594.2 582.8 L1596.7 582.9 L1599.3 582.9 L1601.8 583.0 L1604.4 583.0 L1606.9 583.1 L1609.5 583.1 L1612.0 583.2 L1614.6 583.2 L1617.2 583.3 L1619.7 583.3 L1622.3 583.3 L1624.8 583.4 L1627.4 583.4 L1629.9 583.5 L1632.5 583.5 L1635.0 583.5 L1637.6 583.5 L1640.2 583.6 L1642.7 583.6 L1645.3 583.6 L1647.8 583.6 L1650.4 583.6 L1652.9 583.7 L1655.5 583.7 L1658.0 583.7 L1660.6 583.7 L1663.1 583.7 L1665.7 583.6 L1668.2 583.6 L1670.8 583.5 L1673.3 583.4 L1675.9 583.3 L1678.5 583.2 L1681.0 583.1 L1683.6 582.9 L1686.1 582.8 L1688.7 582.6 L1691.2 582.5 L1693.8 582.3 L1696.3 582.1 L1698.9 581.9 L1701.4 581.6 L1704.0 581.3 L1706.5 580.9 L1709.1 580.4 L1711.6 579.9 L1714.2 579.3 L1716.8 578.6 L1719.3 578.0 L1721.9 577.2 L1724.4 576.5 L1727.0 575.7 L1729.5 574.9 L1732.1 574.1 L1734.6 573.3 L1737.2 572.5 L1739.8 571.6 L1742.3 570.7 L1744.9 569.7 L1747.4 568.6 L1750.0 567.5 L1752.5 566.4 L1755.1 565.2 L1757.6 564.1 L1760.2 562.9 L1762.7 561.8 L1765.3 560.6 L1767.8 559.4 L1770.4 558.1 L1772.9 556.9 L1775.5 555.6" fill="none" stroke="#F14040" stroke-width="5.0" stroke-linejoin="round"/>
<circle cx="281.5" cy="532.3" r="14.1" fill="#F14040"/>
<circle cx="319.8" cy="527.0" r="14.1" fill="#F14040"/>
<circle cx="358.1" cy="527.0" r="14.1" fill="#F14040"/>
<circle cx="396.4" cy="527.0" r="14.1" fill="#F14040"/>
<circle cx="434.7" cy="527.0" r="14.1" fill="#F14040"/>
<circle cx="473.0" cy="526.9" r="14.1" fill="#F14040"/>
<circle cx="511.4" cy="526.9" r="14.1" fill="#F14040"/>
<circle cx="549.7" cy="526.8" r="14.1" fill="#F14040"/>
<circle cx="588.0" cy="526.6" r="14.1" fill="#F14040"/>
<circle cx="626.3" cy="526.5" r="14.1" fill="#F14040"/>
<circle cx="664.6" cy="526.4" r="14.1" fill="#F14040"/>
<circle cx="702.9" cy="526.2" r="14.1" fill="#F14040"/>
<circle cx="741.2" cy="526.0" r="14.1" fill="#F14040"/>
<circle cx="779.5" cy="525.8" r="14.1" fill="#F14040"/>
<circle cx="817.8" cy="525.5" r="14.1" fill="#F14040"/>
<circle cx="856.1" cy="525.1" r="14.1" fill="#F14040"/>
<circle cx="894.4" cy="524.5" r="14.1" fill="#F14040"/>
<circle cx="932.7" cy="522.5" r="14.1" fill="#F14040"/>
<circle cx="971.0" cy="521.2" r="14.1" fill="#F14040"/>
<circle cx="1009.3" cy="517.4" r="14.1" fill="#F14040"/>
<circle cx="1047.7" cy="513.0" r="14.1" fill="#F14040"/>
<circle cx="1086.0" cy="493.5" r="14.1" fill="#F14040"/>
<circle cx="1124.3" cy="461.0" r="14.1" fill="#F14040"/>
<circle cx="1162.6" cy="422.4" r="14.1" fill="#F14040"/>
<circle cx="1200.9" cy="393.3" r="14.1" fill="#F14040"/>
<circle cx="1239.2" cy="383.9" r="14.1" fill="#F14040"/>
<circle cx="1277.5" cy="369.3" r="14.1" fill="#F14040"/>
<circle cx="1315.8" cy="402.4" r="14.1" fill="#F14040"/>
<circle cx="1354.1" cy="492.6" r="14.1" fill="#F14040"/>
<circle cx="1392.4" cy="517.0" r="14.1" fill="#F14040"/>
<circle cx="1430.7" cy="521.0" r="14.1" fill="#F14040"/>
<circle cx="1469.0" cy="522.7" r="14.1" fill="#F14040"/>
<circle cx="1507.3" cy="522.7" r="14.1" fill="#F14040"/>
<circle cx="1545.7" cy="522.7" r="14.1" fill="#F14040"/>
<circle cx="1584.0" cy="522.7" r="14.1" fill="#F14040"/>
<circle cx="1622.3" cy="522.7" r="14.1" fill="#F14040"/>
<circle cx="1660.6" cy="522.8" r="14.1" fill="#F14040"/>
<circle cx="1698.9" cy="522.9" r="14.1" fill="#F14040"/>
<circle cx="1737.2" cy="523.1" r="14.1" fill="#F14040"/>
<circle cx="281.5" cy="569.1" r="14.1" fill="#F14040"/>
<circle cx="319.8" cy="571.1" r="14.1" fill="#F14040"/>
<circle cx="358.1" cy="571.3" r="14.1" fill="#F14040"/>
<circle cx="396.4" cy="573.0" r="14.1" fill="#F14040"/>
<circle cx="434.7" cy="573.6" r="14.1" fill="#F14040"/>
<circle cx="473.0" cy="575.5" r="14.1" fill="#F14040"/>
<circle cx="511.4" cy="576.3" r="14.1" fill="#F14040"/>
<circle cx="549.7" cy="582.0" r="14.1" fill="#F14040"/>
<circle cx="588.0" cy="600.0" r="14.1" fill="#F14040"/>
<circle cx="626.3" cy="683.2" r="14.1" fill="#F14040"/>
<circle cx="664.6" cy="755.3" r="14.1" fill="#F14040"/>
<circle cx="702.9" cy="763.3" r="14.1" fill="#F14040"/>
<circle cx="741.2" cy="740.2" r="14.1" fill="#F14040"/>
<circle cx="779.5" cy="658.7" r="14.1" fill="#F14040"/>
<circle cx="817.8" cy="589.5" r="14.1" fill="#F14040"/>
<circle cx="856.1" cy="578.8" r="14.1" fill="#F14040"/>
<circle cx="894.4" cy="580.3" r="14.1" fill="#F14040"/>
<circle cx="932.7" cy="580.3" r="14.1" fill="#F14040"/>
<circle cx="971.0" cy="580.2" r="14.1" fill="#F14040"/>
<circle cx="1009.3" cy="580.1" r="14.1" fill="#F14040"/>
<circle cx="1047.7" cy="580.0" r="14.1" fill="#F14040"/>
<circle cx="1086.0" cy="579.9" r="14.1" fill="#F14040"/>
<circle cx="1124.3" cy="579.8" r="14.1" fill="#F14040"/>
<circle cx="1162.6" cy="579.7" r="14.1" fill="#F14040"/>
<circle cx="1200.9" cy="579.8" r="14.1" fill="#F14040"/>
<circle cx="1239.2" cy="579.8" r="14.1" fill="#F14040"/>
<circle cx="1277.5" cy="579.8" r="14.1" fill="#F14040"/>
<circle cx="1315.8" cy="579.9" r="14.1" fill="#F14040"/>
<circle cx="1354.1" cy="580.0" r="14.1" fill="#F14040"/>
<circle cx="1392.4" cy="580.1" r="14.1" fill="#F14040"/>
<circle cx="1430.7" cy="580.2" r="14.1" fill="#F14040"/>
<circle cx="1469.0" cy="580.3" r="14.1" fill="#F14040"/>
<circle cx="1507.3" cy="580.7" r="14.1" fill="#F14040"/>
<circle cx="1545.7" cy="581.6" r="14.1" fill="#F14040"/>
<circle cx="1584.0" cy="582.6" r="14.1" fill="#F14040"/>
<circle cx="1622.3" cy="583.3" r="14.1" fill="#F14040"/>
<circle cx="1660.6" cy="583.7" r="14.1" fill="#F14040"/>
<circle cx="1698.9" cy="581.9" r="14.1" fill="#F14040"/>
<circle cx="1737.2" cy="572.5" r="14.1" fill="#F14040"/>
<path d="M243.2 550.0 L245.8 548.7 L248.3 547.5 L250.9 546.2 L253.4 545.0 L256.0 543.8 L258.5 542.6 L261.1 541.5 L263.6 540.4 L266.2 539.3 L268.7 538.3 L271.3 537.3 L273.8 536.3 L276.4 535.4 L278.9 534.5 L281.5 533.6 L284.1 532.8 L286.6 532.1 L289.2 531.4 L291.7 530.7 L294.3 530.0 L296.8 529.2 L299.4 528.5 L301.9 527.8 L304.5 527.1 L307.1 526.4 L309.6 525.8 L312.2 525.2 L314.7 524.6 L317.3 524.0 L319.8 523.5 L322.4 523.1 L324.9 522.7 L327.5 522.5 L330.0 522.2 L332.6 522.1 L335.1 522.0 L337.7 522.1 L340.2 522.1 L342.8 522.2 L345.4 522.3 L347.9 522.5 L350.5 522.6 L353.0 522.8 L355.6 522.9 L358.1 523.1 L360.7 523.3 L363.2 523.5 L365.8 523.6 L368.3 523.8 L370.9 523.9 L373.4 524.0 L376.0 524.1 L378.5 524.2 L381.1 524.2 L383.7 524.2 L386.2 524.2 L388.8 524.2 L391.3 524.2 L393.9 524.2 L396.4 524.2 L399.0 524.2 L401.5 524.2 L404.1 524.2 L406.7 524.2 L409.2 524.2 L411.8 524.2 L414.3 524.2 L416.9 524.2 L419.4 524.2 L422.0 524.2 L424.5 524.2 L427.1 524.2 L429.6 524.2 L432.2 524.1 L434.7 524.0 L437.3 523.9 L439.8 523.8 L442.4 523.7 L445.0 523.5 L447.5 523.4 L450.1 523.2 L452.6 523.0 L455.2 522.9 L457.7 522.7 L460.3 522.5 L462.8 522.4 L465.4 522.3 L467.9 522.2 L470.5 522.1 L473.0 522.0 L475.6 522.0 L478.1 522.0 L480.7 522.0 L483.3 521.9 L485.8 521.9 L488.4 521.9 L490.9 521.9 L493.5 521.8 L496.0 521.8 L498.6 521.8 L501.1 521.8 L503.7 521.8 L506.2 521.7 L508.8 521.7 L511.4 521.7 L513.9 521.7 L516.5 521.7 L519.0 521.7 L521.6 521.7 L524.1 521.7 L526.7 521.7 L529.2 521.7 L531.8 521.7 L534.3 521.7 L536.9 521.7 L539.4 521.7 L542.0 521.7 L544.6 521.7 L547.1 521.7 L549.7 521.7 L552.2 521.7 L554.8 521.7 L557.3 521.7 L559.9 521.7 L562.4 521.7 L565.0 521.7 L567.5 521.7 L570.1 521.7 L572.6 521.6 L575.2 521.5 L577.7 521.4 L580.3 521.3 L582.9 521.2 L585.4 521.1 L588.0 520.9 L590.5 520.8 L593.1 520.7 L595.6 520.5 L598.2 520.4 L600.7 520.3 L603.3 520.3 L605.8 520.2 L608.4 520.2 L611.0 520.1 L613.5 520.1 L616.1 520.1 L618.6 520.1 L621.2 520.1 L623.7 520.1 L626.3 520.1 L628.8 520.1 L631.4 520.1 L633.9 520.1 L636.5 520.1 L639.0 520.1 L641.6 520.1 L644.2 520.1 L646.7 520.1 L649.3 520.1 L651.8 520.1 L654.4 520.1 L656.9 520.1 L659.5 520.1 L662.0 520.1 L664.6 520.0 L667.1 519.9 L669.7 519.8 L672.2 519.7 L674.8 519.6 L677.3 519.4 L679.9 519.3 L682.5 519.2 L685.0 519.0 L687.6 518.9 L690.1 518.8 L692.7 518.7 L695.2 518.6 L697.8 518.5 L700.3 518.5 L702.9 518.5 L705.4 518.5 L708.0 518.5 L710.6 518.5 L713.1 518.5 L715.7 518.5 L718.2 518.5 L720.8 518.5 L723.3 518.5 L725.9 518.5 L728.4 518.5 L731.0 518.5 L733.5 518.5 L736.1 518.5 L738.6 518.5 L741.2 518.5 L743.8 518.5 L746.3 518.5 L748.9 518.5 L751.4 518.4 L754.0 518.4 L756.5 518.3 L759.1 518.2 L761.6 518.1 L764.2 518.0 L766.7 517.8 L769.3 517.7 L771.8 517.5 L774.4 517.3 L776.9 517.2 L779.5 517.0 L782.1 516.9 L784.6 516.8 L787.2 516.7 L789.7 516.6 L792.3 516.6 L794.8 516.5 L797.4 516.5 L799.9 516.5 L802.5 516.5 L805.0 516.5 L807.6 516.5 L810.2 516.5 L812.7 516.5 L815.3 516.5 L817.8 516.5 L820.4 516.5 L822.9 516.5 L825.5 516.5 L828.0 516.5 L830.6 516.5 L833.1 516.5 L835.7 516.5 L838.2 516.5 L840.8 516.5 L843.4 516.5 L845.9 516.5 L848.5 516.5 L851.0 516.4 L853.6 516.3 L856.1 516.2 L858.7 516.1 L861.2 516.0 L863.8 515.9 L866.3 515.7 L868.9 515.6 L871.4 515.5 L874.0 515.4 L876.5 515.2 L879.1 515.1 L881.7 515.0 L884.2 514.9 L886.8 514.8 L889.3 514.7 L891.9 514.6 L894.4 514.5 L897.0 514.4 L899.5 514.3 L902.1 514.2 L904.6 514.1 L907.2 514.0 L909.8 513.9 L912.3 513.8 L914.9 513.7 L917.4 513.6 L920.0 513.5 L922.5 513.4 L925.1 513.3 L927.6 513.2 L930.2 513.1 L932.7 513.0 L935.3 512.9 L937.8 512.8 L940.4 512.7 L943.0 512.6 L945.5 512.5 L948.1 512.4 L950.6 512.3 L953.2 512.2 L955.7 512.1 L958.3 512.0 L960.8 511.9 L963.4 511.8 L965.9 511.7 L968.5 511.6 L971.0 511.4 L973.6 511.3 L976.1 511.1 L978.7 510.9 L981.3 510.7 L983.8 510.5 L986.4 510.2 L988.9 509.8 L991.5 509.4 L994.0 509.0 L996.6 508.5 L999.1 508.0 L1001.7 507.5 L1004.2 506.9 L1006.8 506.3 L1009.3 505.7 L1011.9 505.1 L1014.5 504.4 L1017.0 503.8 L1019.6 503.1 L1022.1 502.4 L1024.7 501.7 L1027.2 501.0 L1029.8 500.2 L1032.3 499.4 L1034.9 498.6 L1037.4 497.6 L1040.0 496.7 L1042.6 495.7 L1045.1 494.7 L1047.7 493.6 L1050.2 492.5 L1052.8 491.3 L1055.3 490.2 L1057.9 489.0 L1060.4 487.7 L1063.0 486.5 L1065.5 485.2 L1068.1 484.0 L1070.6 482.6 L1073.2 481.3 L1075.7 480.0 L1078.3 478.6 L1080.9 477.1 L1083.4 475.6 L1086.0 474.1 L1088.5 472.5 L1091.1 470.9 L1093.6 469.2 L1096.2 467.5 L1098.7 465.8 L1101.3 464.0 L1103.8 462.1 L1106.4 460.2 L1108.9 458.2 L1111.5 456.2 L1114.1 454.1 L1116.6 452.0 L1119.2 449.8 L1121.7 447.4 L1124.3 444.9 L1126.8 442.3 L1129.4 439.5 L1131.9 436.7 L1134.5 433.8 L1137.0 430.8 L1139.6 427.7 L1142.2 424.6 L1144.7 421.4 L1147.3 418.2 L1149.8 415.0 L1152.4 411.7 L1154.9 408.5 L1157.5 405.2 L1160.0 402.0 L1162.6 398.8 L1165.1 395.5 L1167.7 392.1 L1170.2 388.5 L1172.8 384.7 L1175.3 380.9 L1177.9 377.0 L1180.5 373.1 L1183.0 369.3 L1185.6 365.4 L1188.1 361.6 L1190.7 357.8 L1193.2 354.2 L1195.8 350.8 L1198.3 347.5 L1200.9 344.4 L1203.4 341.6 L1206.0 339.0 L1208.5 336.7 L1211.1 334.6 L1213.7 332.4 L1216.2 330.3 L1218.8 328.1 L1221.3 326.0 L1223.9 323.9 L1226.4 321.9 L1229.0 320.0 L1231.5 318.1 L1234.1 316.4 L1236.6 314.9 L1239.2 313.4 L1241.8 312.2 L1244.3 311.1 L1246.9 310.3 L1249.4 309.6 L1252.0 309.2 L1254.5 309.1 L1257.1 309.2 L1259.6 309.6 L1262.2 310.3 L1264.7 311.2 L1267.3 312.3 L1269.8 313.6 L1272.4 315.1 L1274.9 316.8 L1277.5 318.7 L1280.1 320.7 L1282.6 322.9 L1285.2 325.1 L1287.7 327.5 L1290.3 330.0 L1292.8 332.6 L1295.4 335.2 L1297.9 337.9 L1300.5 340.7 L1303.0 344.0 L1305.6 348.1 L1308.1 353.0 L1310.7 358.1 L1313.3 363.4 L1315.8 368.5 L1318.4 373.4 L1320.9 378.2 L1323.5 383.2 L1326.0 388.3 L1328.6 393.6 L1331.1 399.3 L1332.7 403.0 L1333.7 405.5 L1336.2 412.6 L1338.8 420.4 L1341.4 428.4 L1343.9 436.2 L1346.5 443.4 L1349.0 450.1 L1351.6 456.6 L1354.1 462.7 L1356.7 467.8 L1356.7 467.8 L1359.2 471.9 L1361.8 475.5 L1364.3 478.7 L1365.3 479.8 L1366.9 481.6 L1369.4 484.4 L1372.0 486.9 L1374.5 489.2 L1375.6 490.1 L1377.1 491.3 L1379.7 493.3 L1382.2 495.1 L1384.8 496.9 L1387.3 498.8 L1387.5 498.9 L1389.9 500.9 L1392.4 502.9 L1395.0 504.3 L1397.5 505.7 L1400.1 507.0 L1402.6 508.0 L1405.2 508.9 L1407.7 509.6 L1410.3 510.1 L1412.9 510.6 L1415.4 511.1 L1418.0 511.5 L1420.5 511.9 L1423.1 512.2 L1425.6 512.5 L1428.2 512.8 L1430.7 513.1 L1433.3 513.3 L1435.8 513.5 L1438.4 513.6 L1441.0 513.8 L1443.5 513.9 L1446.1 514.0 L1448.6 514.2 L1451.2 514.3 L1453.7 514.4 L1456.3 514.5 L1458.8 514.6 L1461.4 514.7 L1463.9 514.8 L1466.5 514.9 L1469.0 515.0 L1471.6 515.1 L1474.1 515.1 L1476.7 515.1 L1479.3 515.2 L1481.8 515.2 L1484.4 515.2 L1486.9 515.2 L1489.5 515.2 L1492.0 515.2 L1494.6 515.2 L1497.1 515.2 L1499.7 515.2 L1502.2 515.2 L1504.8 515.2 L1507.3 515.2 L1509.9 515.2 L1512.5 515.2 L1515.0 515.1 L1517.6 515.1 L1520.1 515.1 L1522.7 515.1 L1525.2 515.1 L1527.8 515.1 L1530.3 515.1 L1532.9 515.1 L1535.4 515.1 L1538.0 515.1 L1540.6 515.0 L1543.1 515.0 L1545.7 515.0 L1548.2 515.0 L1550.8 515.0 L1553.3 515.0 L1555.9 515.0 L1558.4 515.0 L1561.0 514.9 L1563.5 514.9 L1566.1 514.9 L1568.6 514.9 L1571.2 514.9 L1573.7 514.9 L1576.3 514.9 L1578.9 514.9 L1581.4 514.8 L1584.0 514.8 L1586.5 514.8 L1589.1 514.8 L1591.6 514.8 L1594.2 514.8 L1596.7 514.8 L1599.3 514.8 L1601.8 514.8 L1604.4 514.8 L1606.9 514.8 L1609.5 514.8 L1612.0 514.8 L1614.6 514.8 L1617.2 514.8 L1619.7 514.8 L1622.3 514.8 L1624.8 514.8 L1627.4 514.8 L1629.9 514.8 L1632.5 514.8 L1635.0 514.8 L1637.6 514.8 L1640.2 514.8 L1642.7 514.8 L1645.3 514.8 L1647.8 514.8 L1650.4 514.8 L1652.9 514.8 L1655.5 514.8 L1658.0 514.8 L1660.6 514.8 L1663.1 514.8 L1665.7 514.8 L1668.2 514.8 L1670.8 514.8 L1673.3 514.8 L1675.9 514.8 L1678.5 514.8 L1681.0 514.8 L1683.6 514.8 L1686.1 514.8 L1688.7 514.8 L1691.2 514.8 L1693.8 514.8 L1696.3 514.8 L1698.9 514.8 L1701.4 514.8 L1704.0 514.8 L1706.5 514.8 L1709.1 514.8 L1711.6 514.8 L1714.2 514.8 L1716.8 514.8 L1719.3 514.8 L1721.9 514.8 L1724.4 514.8 L1727.0 514.8 L1729.5 514.8 L1732.1 514.8 L1734.6 514.8 L1737.2 514.8 L1739.8 514.8 L1742.3 514.8 L1744.9 514.8 L1747.4 514.8 L1750.0 514.8 L1752.5 514.8 L1755.1 514.8 L1757.6 514.8 L1760.2 514.8 L1762.7 514.8 L1765.3 514.8 L1767.8 514.8 L1770.4 514.8 L1772.9 514.8 L1775.5 514.8" fill="none" stroke="#1A6FDF" stroke-width="5.0" stroke-linejoin="round"/>
<path d="M243.2 574.0 L245.8 574.2 L248.3 574.5 L250.9 574.7 L253.4 574.9 L256.0 575.1 L258.5 575.3 L261.1 575.4 L263.6 575.6 L266.2 575.8 L268.7 576.0 L271.3 576.1 L273.8 576.3 L276.4 576.5 L278.9 576.6 L281.5 576.8 L284.1 576.9 L286.6 577.0 L289.2 577.2 L291.7 577.3 L294.3 577.4 L296.8 577.6 L299.4 577.7 L301.9 577.8 L304.5 578.0 L307.1 578.1 L309.6 578.2 L312.2 578.3 L314.7 578.5 L317.3 578.6 L319.8 578.7 L322.4 578.7 L324.9 578.8 L327.5 578.9 L330.0 578.9 L332.6 579.0 L335.1 579.0 L337.7 579.0 L340.2 579.0 L342.8 579.0 L345.4 579.0 L347.9 579.0 L350.5 579.0 L353.0 579.0 L355.6 579.0 L358.1 579.0 L360.7 579.0 L363.2 579.0 L365.8 579.0 L368.3 579.0 L370.9 579.0 L373.4 579.0 L376.0 579.0 L378.5 579.0 L381.1 579.0 L383.7 579.0 L386.2 579.0 L388.8 579.0 L391.3 579.0 L393.9 579.0 L396.4 579.0 L399.0 579.0 L401.5 579.0 L404.1 579.0 L406.7 579.0 L409.2 579.0 L411.8 579.0 L414.3 579.0 L416.9 579.0 L419.4 579.0 L422.0 579.0 L424.5 579.0 L427.1 579.0 L429.6 579.0 L432.2 579.0 L434.7 579.1 L437.3 579.2 L439.8 579.3 L442.4 579.4 L445.0 579.6 L447.5 579.7 L450.1 579.9 L452.6 580.0 L455.2 580.2 L457.7 580.4 L460.3 580.5 L462.8 580.7 L465.4 580.8 L467.9 580.9 L470.5 581.0 L473.0 581.1 L475.6 581.2 L478.1 581.2 L480.7 581.3 L483.3 581.3 L485.8 581.4 L488.4 581.4 L490.9 581.5 L493.5 581.5 L496.0 581.6 L498.6 581.6 L501.1 581.6 L503.7 581.7 L506.2 581.7 L508.8 581.8 L511.4 581.8 L513.9 581.9 L516.5 581.9 L519.0 582.0 L521.6 582.1 L524.1 582.1 L526.7 582.2 L529.2 582.3 L531.8 582.3 L534.3 582.4 L536.9 582.5 L539.4 582.6 L542.0 582.7 L544.6 582.7 L547.1 582.8 L549.7 582.9 L552.2 583.0 L554.8 583.2 L557.3 583.3 L559.9 583.4 L562.4 583.5 L565.0 583.7 L567.5 583.8 L570.1 584.0 L572.6 584.2 L575.2 584.4 L577.7 584.6 L580.3 584.8 L582.9 585.1 L585.4 585.3 L588.0 585.6 L590.5 585.9 L593.1 586.2 L595.6 586.6 L598.2 587.0 L600.7 587.4 L603.3 587.8 L605.8 588.3 L608.4 588.8 L611.0 589.3 L613.5 589.9 L616.1 590.8 L618.6 591.9 L621.2 593.1 L623.7 594.4 L626.3 595.8 L628.8 597.3 L631.4 598.8 L632.4 599.4 L633.9 600.3 L636.5 601.8 L639.0 603.4 L641.6 605.0 L644.2 606.8 L646.7 608.7 L649.3 610.7 L651.8 612.9 L654.4 615.3 L656.9 617.9 L659.5 620.9 L662.0 624.4 L664.6 628.5 L667.1 633.0 L669.2 636.9 L669.7 637.9 L672.2 643.8 L674.8 650.7 L677.3 658.3 L679.9 666.3 L682.5 674.4 L685.0 682.3 L686.0 685.4 L687.6 689.9 L690.1 697.6 L692.7 705.3 L695.2 713.2 L697.8 721.0 L700.3 728.9 L702.9 736.9 L705.4 745.0 L708.0 753.3 L710.6 761.7 L713.1 770.1 L715.7 778.2 L718.2 786.1 L719.7 790.7 L720.8 793.6 L723.3 800.7 L725.9 807.6 L728.4 814.4 L731.0 821.0 L733.5 827.5 L736.1 834.1 L738.6 840.7 L739.7 843.4 L741.2 847.8 L743.8 855.9 L746.3 863.1 L748.9 867.7 L751.4 870.1 L754.0 872.4 L756.5 874.3 L759.1 875.9 L761.6 877.1 L764.2 877.9 L766.7 878.2 L767.2 878.2 L769.3 877.9 L771.8 876.6 L774.4 874.7 L776.9 872.1 L779.5 869.3 L782.1 866.2 L784.6 863.2 L785.6 862.1 L787.2 860.3 L789.7 857.1 L792.3 853.5 L794.8 849.3 L797.4 844.4 L799.9 838.7 L802.5 832.4 L805.0 825.6 L807.6 818.4 L810.2 810.8 L812.7 803.0 L813.2 801.4 L815.3 794.8 L817.8 785.8 L820.4 776.1 L822.9 766.1 L825.5 755.9 L828.0 745.9 L830.1 738.1 L830.6 736.3 L833.1 726.9 L835.7 717.7 L838.2 708.3 L840.8 698.4 L843.4 687.4 L845.9 675.4 L848.5 663.1 L851.0 651.3 L853.6 640.6 L855.2 634.7 L856.1 631.7 L858.7 623.8 L861.2 616.7 L863.8 610.5 L865.3 607.2 L866.3 605.2 L868.9 600.4 L871.4 596.0 L874.0 592.5 L876.0 590.4 L876.5 590.0 L879.1 588.0 L881.7 586.2 L884.2 585.0 L886.8 584.3 L889.3 584.1 L891.9 583.9 L894.4 583.7 L897.0 583.6 L899.5 583.4 L902.1 583.3 L904.6 583.1 L907.2 583.0 L909.8 582.9 L912.3 582.9 L914.9 582.8 L917.4 582.7 L920.0 582.7 L922.5 582.6 L925.1 582.6 L927.6 582.6 L930.2 582.6 L932.7 582.6 L935.3 582.6 L937.8 582.6 L940.4 582.6 L943.0 582.6 L945.5 582.6 L948.1 582.6 L950.6 582.6 L953.2 582.6 L955.7 582.6 L958.3 582.6 L960.8 582.6 L963.4 582.6 L965.9 582.6 L968.5 582.6 L971.0 582.6 L973.6 582.6 L976.1 582.6 L978.7 582.6 L981.3 582.6 L983.8 582.6 L986.4 582.6 L988.9 582.6 L991.5 582.6 L994.0 582.6 L996.6 582.6 L999.1 582.6 L1001.7 582.6 L1004.2 582.6 L1006.8 582.6 L1009.3 582.6 L1011.9 582.6 L1014.5 582.6 L1017.0 582.6 L1019.6 582.6 L1022.1 582.6 L1024.7 582.6 L1027.2 582.6 L1029.8 582.6 L1032.3 582.6 L1034.9 582.6 L1037.4 582.6 L1040.0 582.6 L1042.6 582.6 L1045.1 582.6 L1047.7 582.6 L1050.2 582.6 L1052.8 582.6 L1055.3 582.6 L1057.9 582.6 L1060.4 582.6 L1063.0 582.6 L1065.5 582.6 L1068.1 582.6 L1070.6 582.6 L1073.2 582.6 L1075.7 582.6 L1078.3 582.6 L1080.9 582.6 L1083.4 582.6 L1086.0 582.6 L1088.5 582.6 L1091.1 582.6 L1093.6 582.6 L1096.2 582.6 L1098.7 582.6 L1101.3 582.6 L1103.8 582.6 L1106.4 582.6 L1108.9 582.6 L1111.5 582.6 L1114.1 582.6 L1116.6 582.6 L1119.2 582.6 L1121.7 582.6 L1124.3 582.6 L1126.8 582.6 L1129.4 582.6 L1131.9 582.6 L1134.5 582.6 L1137.0 582.6 L1139.6 582.6 L1142.2 582.6 L1144.7 582.6 L1147.3 582.6 L1149.8 582.6 L1152.4 582.6 L1154.9 582.6 L1157.5 582.6 L1160.0 582.6 L1162.6 582.6 L1165.1 582.6 L1167.7 582.6 L1170.2 582.6 L1172.8 582.6 L1175.3 582.6 L1177.9 582.6 L1180.5 582.6 L1183.0 582.6 L1185.6 582.6 L1188.1 582.6 L1190.7 582.6 L1193.2 582.6 L1195.8 582.6 L1198.3 582.6 L1200.9 582.6 L1203.4 582.6 L1206.0 582.6 L1208.5 582.6 L1211.1 582.6 L1213.7 582.6 L1216.2 582.6 L1218.8 582.6 L1221.3 582.6 L1223.9 582.6 L1226.4 582.6 L1229.0 582.6 L1231.5 582.6 L1234.1 582.6 L1236.6 582.6 L1239.2 582.6 L1241.8 582.6 L1244.3 582.6 L1246.9 582.6 L1249.4 582.6 L1252.0 582.6 L1254.5 582.6 L1257.1 582.6 L1259.6 582.6 L1262.2 582.6 L1264.7 582.6 L1267.3 582.6 L1269.8 582.6 L1272.4 582.6 L1274.9 582.6 L1277.5 582.6 L1280.1 582.6 L1282.6 582.6 L1285.2 582.6 L1287.7 582.6 L1290.3 582.6 L1292.8 582.6 L1295.4 582.6 L1297.9 582.6 L1300.5 582.6 L1303.0 582.6 L1305.6 582.6 L1308.1 582.6 L1310.7 582.6 L1313.3 582.6 L1315.8 582.6 L1318.4 582.6 L1320.9 582.6 L1323.5 582.6 L1326.0 582.6 L1328.6 582.6 L1331.1 582.6 L1333.7 582.6 L1336.2 582.6 L1338.8 582.6 L1341.4 582.6 L1343.9 582.6 L1346.5 582.6 L1349.0 582.6 L1351.6 582.6 L1354.1 582.6 L1356.7 582.6 L1359.2 582.6 L1361.8 582.6 L1364.3 582.6 L1366.9 582.6 L1369.4 582.6 L1372.0 582.6 L1374.5 582.6 L1377.1 582.6 L1379.7 582.6 L1382.2 582.6 L1384.8 582.6 L1387.3 582.6 L1389.9 582.6 L1392.4 582.6 L1395.0 582.6 L1397.5 582.6 L1400.1 582.6 L1402.6 582.6 L1405.2 582.6 L1407.7 582.6 L1410.3 582.6 L1412.9 582.6 L1415.4 582.6 L1418.0 582.6 L1420.5 582.6 L1423.1 582.6 L1425.6 582.6 L1428.2 582.6 L1430.7 582.6 L1433.3 582.6 L1435.8 582.6 L1438.4 582.6 L1441.0 582.6 L1443.5 582.6 L1446.1 582.6 L1448.6 582.6 L1451.2 582.6 L1453.7 582.6 L1456.3 582.6 L1458.8 582.6 L1461.4 582.6 L1463.9 582.6 L1466.5 582.6 L1469.0 582.6 L1471.6 582.6 L1474.1 582.6 L1476.7 582.6 L1479.3 582.6 L1481.8 582.6 L1484.4 582.6 L1486.9 582.6 L1489.5 582.6 L1492.0 582.6 L1494.6 582.6 L1497.1 582.6 L1499.7 582.6 L1502.2 582.6 L1504.8 582.6 L1507.3 582.6 L1509.9 582.6 L1512.5 582.6 L1515.0 582.6 L1517.6 582.6 L1520.1 582.6 L1522.7 582.6 L1525.2 582.6 L1527.8 582.6 L1530.3 582.6 L1532.9 582.6 L1535.4 582.6 L1538.0 582.6 L1540.6 582.6 L1543.1 582.6 L1545.7 582.6 L1548.2 582.6 L1550.8 582.6 L1553.3 582.6 L1555.9 582.6 L1558.4 582.6 L1561.0 582.6 L1563.5 582.6 L1566.1 582.6 L1568.6 582.6 L1571.2 582.6 L1573.7 582.6 L1576.3 582.6 L1578.9 582.6 L1581.4 582.6 L1584.0 582.6 L1586.5 582.6 L1589.1 582.6 L1591.6 582.6 L1594.2 582.6 L1596.7 582.6 L1599.3 582.6 L1601.8 582.6 L1604.4 582.6 L1606.9 582.6 L1609.5 582.6 L1612.0 582.6 L1614.6 582.6 L1617.2 582.6 L1619.7 582.6 L1622.3 582.6 L1624.8 582.6 L1627.4 582.6 L1629.9 582.6 L1632.5 582.6 L1635.0 582.6 L1637.6 582.6 L1640.2 582.6 L1642.7 582.6 L1645.3 582.6 L1647.8 582.6 L1650.4 582.6 L1652.9 582.6 L1655.5 582.6 L1658.0 582.6 L1660.6 582.6 L1663.1 582.6 L1665.7 582.6 L1668.2 582.6 L1670.8 582.6 L1673.3 582.6 L1675.9 582.6 L1678.5 582.6 L1681.0 582.6 L1683.6 582.6 L1686.1 582.6 L1688.7 582.6 L1691.2 582.6 L1693.8 582.6 L1696.3 582.6 L1698.9 582.6 L1701.4 582.6 L1704.0 582.6 L1706.5 582.6 L1709.1 582.6 L1711.6 582.6 L1714.2 582.6 L1716.8 581.2 L1719.3 578.3 L1721.9 575.4 L1722.5 574.8 L1724.4 573.3 L1727.0 571.4 L1729.5 569.7 L1732.1 567.9 L1734.1 566.4 L1734.6 566.0 L1737.2 563.8 L1739.8 561.6 L1742.3 559.5 L1744.5 558.0 L1744.9 557.8 L1747.4 556.4 L1750.0 555.0 L1752.5 553.8 L1755.1 552.7 L1757.6 551.9 L1760.2 551.3 L1762.7 551.0 L1765.3 550.7 L1767.8 550.4 L1770.4 550.2 L1772.9 550.0 L1775.5 550.0" fill="none" stroke="#1A6FDF" stroke-width="5.0" stroke-linejoin="round"/>
<path d="M243.2 528.8 l18.2 31.4 h-36.4z" fill="#1A6FDF"/>
<path d="M289.2 510.2 l18.2 31.4 h-36.4z" fill="#1A6FDF"/>
<path d="M335.1 500.8 l18.2 31.4 h-36.4z" fill="#1A6FDF"/>
<path d="M381.1 503.0 l18.2 31.4 h-36.4z" fill="#1A6FDF"/>
<path d="M427.1 503.0 l18.2 31.4 h-36.4z" fill="#1A6FDF"/>
<path d="M473.0 500.8 l18.2 31.4 h-36.4z" fill="#1A6FDF"/>
<path d="M519.0 500.5 l18.2 31.4 h-36.4z" fill="#1A6FDF"/>
<path d="M565.0 500.5 l18.2 31.4 h-36.4z" fill="#1A6FDF"/>
<path d="M611.0 498.9 l18.2 31.4 h-36.4z" fill="#1A6FDF"/>
<path d="M656.9 498.9 l18.2 31.4 h-36.4z" fill="#1A6FDF"/>
<path d="M702.9 497.3 l18.2 31.4 h-36.4z" fill="#1A6FDF"/>
<path d="M748.9 497.3 l18.2 31.4 h-36.4z" fill="#1A6FDF"/>
<path d="M794.8 495.3 l18.2 31.4 h-36.4z" fill="#1A6FDF"/>
<path d="M840.8 495.3 l18.2 31.4 h-36.4z" fill="#1A6FDF"/>
<path d="M886.8 493.6 l18.2 31.4 h-36.4z" fill="#1A6FDF"/>
<path d="M932.7 491.8 l18.2 31.4 h-36.4z" fill="#1A6FDF"/>
<path d="M978.7 489.7 l18.2 31.4 h-36.4z" fill="#1A6FDF"/>
<path d="M1024.7 480.5 l18.2 31.4 h-36.4z" fill="#1A6FDF"/>
<path d="M1070.6 461.4 l18.2 31.4 h-36.4z" fill="#1A6FDF"/>
<path d="M1116.6 430.8 l18.2 31.4 h-36.4z" fill="#1A6FDF"/>
<path d="M1162.6 377.6 l18.2 31.4 h-36.4z" fill="#1A6FDF"/>
<path d="M1208.5 315.5 l18.2 31.4 h-36.4z" fill="#1A6FDF"/>
<path d="M1254.5 287.9 l18.2 31.4 h-36.4z" fill="#1A6FDF"/>
<path d="M1300.5 319.5 l18.2 31.4 h-36.4z" fill="#1A6FDF"/>
<path d="M1346.5 422.2 l18.2 31.4 h-36.4z" fill="#1A6FDF"/>
<path d="M1392.4 481.7 l18.2 31.4 h-36.4z" fill="#1A6FDF"/>
<path d="M1438.4 492.4 l18.2 31.4 h-36.4z" fill="#1A6FDF"/>
<path d="M1484.4 494.0 l18.2 31.4 h-36.4z" fill="#1A6FDF"/>
<path d="M1530.3 493.9 l18.2 31.4 h-36.4z" fill="#1A6FDF"/>
<path d="M1576.3 493.7 l18.2 31.4 h-36.4z" fill="#1A6FDF"/>
<path d="M1622.3 493.6 l18.2 31.4 h-36.4z" fill="#1A6FDF"/>
<path d="M1668.2 493.6 l18.2 31.4 h-36.4z" fill="#1A6FDF"/>
<path d="M1714.2 493.6 l18.2 31.4 h-36.4z" fill="#1A6FDF"/>
<path d="M1760.2 493.6 l18.2 31.4 h-36.4z" fill="#1A6FDF"/>
<path d="M243.2 552.8 l18.2 31.4 h-36.4z" fill="#1A6FDF"/>
<path d="M289.2 556.0 l18.2 31.4 h-36.4z" fill="#1A6FDF"/>
<path d="M335.1 557.8 l18.2 31.4 h-36.4z" fill="#1A6FDF"/>
<path d="M381.1 557.8 l18.2 31.4 h-36.4z" fill="#1A6FDF"/>
<path d="M427.1 557.8 l18.2 31.4 h-36.4z" fill="#1A6FDF"/>
<path d="M473.0 559.9 l18.2 31.4 h-36.4z" fill="#1A6FDF"/>
<path d="M519.0 560.8 l18.2 31.4 h-36.4z" fill="#1A6FDF"/>
<path d="M565.0 562.5 l18.2 31.4 h-36.4z" fill="#1A6FDF"/>
<path d="M611.0 568.1 l18.2 31.4 h-36.4z" fill="#1A6FDF"/>
<path d="M656.9 596.7 l18.2 31.4 h-36.4z" fill="#1A6FDF"/>
<path d="M702.9 715.7 l18.2 31.4 h-36.4z" fill="#1A6FDF"/>
<path d="M748.9 846.5 l18.2 31.4 h-36.4z" fill="#1A6FDF"/>
<path d="M794.8 828.1 l18.2 31.4 h-36.4z" fill="#1A6FDF"/>
<path d="M840.8 677.2 l18.2 31.4 h-36.4z" fill="#1A6FDF"/>
<path d="M886.8 563.1 l18.2 31.4 h-36.4z" fill="#1A6FDF"/>
<path d="M932.7 561.4 l18.2 31.4 h-36.4z" fill="#1A6FDF"/>
<path d="M978.7 561.4 l18.2 31.4 h-36.4z" fill="#1A6FDF"/>
<path d="M1024.7 561.4 l18.2 31.4 h-36.4z" fill="#1A6FDF"/>
<path d="M1070.6 561.4 l18.2 31.4 h-36.4z" fill="#1A6FDF"/>
<path d="M1116.6 561.4 l18.2 31.4 h-36.4z" fill="#1A6FDF"/>
<path d="M1162.6 561.4 l18.2 31.4 h-36.4z" fill="#1A6FDF"/>
<path d="M1208.5 561.4 l18.2 31.4 h-36.4z" fill="#1A6FDF"/>
<path d="M1254.5 561.4 l18.2 31.4 h-36.4z" fill="#1A6FDF"/>
<path d="M1300.5 561.4 l18.2 31.4 h-36.4z" fill="#1A6FDF"/>
<path d="M1346.5 561.4 l18.2 31.4 h-36.4z" fill="#1A6FDF"/>
<path d="M1392.4 561.4 l18.2 31.4 h-36.4z" fill="#1A6FDF"/>
<path d="M1438.4 561.4 l18.2 31.4 h-36.4z" fill="#1A6FDF"/>
<path d="M1484.4 561.4 l18.2 31.4 h-36.4z" fill="#1A6FDF"/>
<path d="M1530.3 561.4 l18.2 31.4 h-36.4z" fill="#1A6FDF"/>
<path d="M1576.3 561.4 l18.2 31.4 h-36.4z" fill="#1A6FDF"/>
<path d="M1622.3 561.4 l18.2 31.4 h-36.4z" fill="#1A6FDF"/>
<path d="M1668.2 561.4 l18.2 31.4 h-36.4z" fill="#1A6FDF"/>
<path d="M1714.2 561.4 l18.2 31.4 h-36.4z" fill="#1A6FDF"/>
<path d="M1760.2 530.1 l18.2 31.4 h-36.4z" fill="#1A6FDF"/>
</g>
<g class="sans" font-size="82.0" fill="#000">
<text transform="translate(199.0,125.2) scale(1,1.030)" text-anchor="end">4</text>
<text transform="translate(200.2,349.7) scale(1,1.030)" text-anchor="end">2</text>
<text transform="translate(200.2,574.2) scale(1,1.030)" text-anchor="end">0</text>
<text transform="translate(0,798.7) scale(1,1.030)"><tspan x="126.3" y="5.6" font-size="95">-</tspan><tspan x="154.6" y="0">2</tspan></text>
<text transform="translate(0,1023.2) scale(1,1.030)"><tspan x="126.3" y="5.6" font-size="95">-</tspan><tspan x="153.4" y="0">4</tspan></text>
<text transform="translate(0,1247.7) scale(1,1.030)"><tspan x="126.3" y="5.6" font-size="95">-</tspan><tspan x="154.6" y="0">6</tspan></text>
<text transform="translate(240.3,1383.3) scale(1,1.030)" text-anchor="middle">0</text>
<text transform="translate(547.4,1383.3) scale(1,1.030)" text-anchor="middle">20</text>
<text transform="translate(852.6,1383.3) scale(1,1.030)" text-anchor="middle">40</text>
<text transform="translate(1161.3,1383.3) scale(1,1.030)" text-anchor="middle">60</text>
<text transform="translate(1467.8,1383.3) scale(1,1.030)" text-anchor="middle">80</text>
<text transform="translate(1774.4,1383.3) scale(1,1.030)" text-anchor="middle">100</text>
</g>
<text class="serif" font-size="82" transform="translate(99.1,661.6) rotate(-90) scale(1,1.08)" text-anchor="middle">Heat Flow (w/g)</text>
<text class="serif" font-size="82.4" transform="translate(1008.1,1478) scale(1,1.045)" text-anchor="middle">Temperature (<tspan font-size="51.5" dy="-31">o</tspan><tspan dy="31">C)</tspan></text>
<rect x="317.6" y="130" width="5.2" height="89.1" fill="#000"/>
<path d="M320.2 103.4 L322.9 107 L329.6 131 Q330.9 137.9 326.6 137.9 H313.8 Q309.5 137.9 310.8 131 L317.5 107Z" fill="#000"/>
<text class="serif" font-size="82.5" transform="translate(353.5,198.3) scale(1,1.03)">Endo</text>
<path d="M1211 1020.4 H1271.5 M1308 1020.4 H1369" stroke="#515151" stroke-width="5.5" stroke-linecap="round" fill="none"/>
<rect x="1275.8" y="1006.7" width="25.7" height="25.7" fill="#515151"/>
<text class="serif" font-size="70.5" transform="translate(1385.7,1044.7) scale(1.000,1)">Pure PEG</text>
<path d="M1211 1108.3 H1271.5 M1308 1108.3 H1369" stroke="#F14040" stroke-width="5.5" stroke-linecap="round" fill="none"/>
<circle cx="1289" cy="1107.7" r="15" fill="#F14040"/>
<text class="serif" font-size="70.5" transform="translate(1385.7,1133.5) scale(0.988,1)">fs-CPCM-1</text>
<path d="M1211 1196.3 H1271.5 M1308 1196.3 H1369" stroke="#1A6FDF" stroke-width="5.5" stroke-linecap="round" fill="none"/>
<path d="M1289.7 1175.0 l17.6 31.3 h-35.2z" fill="#1A6FDF"/>
<text class="serif" font-size="70.5" transform="translate(1385.7,1220.0) scale(0.988,1)">fs-CPCM-2</text>
</svg>
</body>
</html>
